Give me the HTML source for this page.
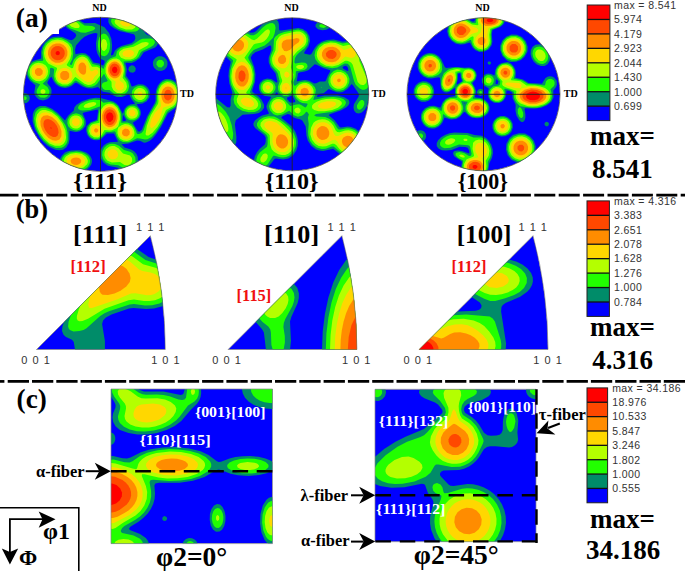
<!DOCTYPE html>
<html><head><meta charset="utf-8"><style>
html,body{margin:0;padding:0;background:#fff;}
body{width:685px;height:571px;overflow:hidden;position:relative;}
svg{position:absolute;left:0;top:0;}
.sb{font-family:"Liberation Serif",serif;font-weight:bold;}
.sr{font-family:"Liberation Serif",serif;}
.ss{font-family:"Liberation Sans",sans-serif;}
</style></head><body>
<svg width="685" height="571" viewBox="0 0 685 571">
<clipPath id="pf0"><path d="M23.5 94.3A77.0 77.0 0 1 1 177.5 94.3A77.0 77.0 0 1 1 23.5 94.3Z"/></clipPath>
<g clip-path="url(#pf0)">
<path fill="#0000ff" d="M23.5 94.3A77.0 77.0 0 1 1 177.5 94.3A77.0 77.0 0 1 1 23.5 94.3Z"/>
<path fill="#008c69" fill-rule="evenodd" d="M129.5 170.9L124.5 170.9L117.0 167.4L108.0 165.7L103.7 162.8L101.1 158.8L100.2 155.3L100.4 151.8L101.7 148.3L104.0 145.3L106.5 143.4L109.5 142.2L118.0 141.8L114.0 133.4L107.0 133.4L101.5 138.8L99.0 139.9L96.5 140.3L93.5 140.0L91.0 138.8L89.0 137.2L87.3 134.8L86.2 130.8L86.6 126.3L90.5 122.2L96.0 120.2L97.0 119.3L98.1 110.8L97.5 109.5L84.0 112.5L82.6 113.3L85.7 120.3L85.9 123.8L85.3 126.3L82.5 129.5L79.0 131.4L75.5 131.9L70.5 130.9L69.5 131.1L69.5 139.3L68.7 143.3L66.4 147.3L63.0 149.7L59.5 150.2L55.5 149.7L51.5 148.1L47.5 145.7L43.6 142.3L40.1 138.3L34.9 129.3L32.6 121.3L32.8 114.3L33.9 111.3L35.5 108.8L37.5 107.2L40.0 106.1L45.5 106.0L52.0 108.7L57.5 112.8L65.0 120.6L68.5 115.3L73.7 110.8L74.5 107.3L76.5 104.8L82.0 101.3L89.5 98.7L95.5 97.8L100.5 97.9L113.5 101.6L116.5 103.5L118.7 105.8L122.5 113.5L123.0 113.4L124.6 108.8L127.0 106.0L130.0 104.5L135.1 103.8L131.6 99.3L129.0 94.0L122.0 96.9L117.0 96.9L114.0 95.7L109.5 92.7L103.0 91.7L98.0 87.0L92.0 88.5L87.5 88.3L83.0 86.7L76.5 82.8L75.0 83.1L71.5 85.9L68.5 87.3L65.5 87.9L62.0 87.6L59.0 86.5L55.9 84.3L54.0 81.8L51.5 76.8L50.0 78.0L47.3 82.3L47.7 83.8L50.6 87.3L51.5 89.8L51.5 93.3L50.0 96.8L47.0 99.3L43.0 100.4L39.0 99.4L36.0 96.8L34.9 94.8L34.3 92.3L35.5 85.3L30.0 80.8L27.6 77.3L26.4 72.8L27.1 67.8L29.1 64.3L32.0 61.6L35.0 60.2L40.8 58.8L41.2 57.8L41.1 51.3L42.2 46.8L44.9 42.3L48.5 39.1L53.0 37.0L58.5 36.4L62.5 37.0L69.0 39.8L71.5 40.2L73.5 39.3L75.4 37.3L76.3 35.3L75.3 33.3L67.0 27.9L63.8 24.3L63.2 20.8L64.1 19.3L66.0 18.1L69.5 17.4L74.0 18.0L78.0 19.5L84.5 23.3L95.0 23.1L104.5 27.3L109.0 33.1L111.3 38.8L112.1 45.3L111.8 50.8L110.9 54.8L111.5 55.6L113.2 54.8L114.9 50.8L117.5 48.2L121.5 46.1L131.5 43.3L134.5 40.8L135.4 38.3L135.0 35.8L133.8 34.3L119.5 31.0L114.0 28.3L110.0 25.3L108.4 22.3L108.3 19.3L109.9 16.8L113.0 15.1L118.0 14.2L123.5 14.5L129.5 15.9L134.5 18.1L138.0 20.4L140.9 23.3L142.3 25.8L143.8 31.3L146.0 34.1L148.1 35.3L154.7 36.8L157.7 39.3L158.3 41.3L157.9 43.8L156.8 45.8L155.0 47.6L143.7 52.3L139.7 58.3L135.0 61.6L131.5 63.0L126.5 62.8L125.4 63.3L126.8 69.3L126.0 75.8L129.5 80.8L131.5 86.2L132.5 86.5L138.5 84.2L143.0 84.5L145.5 85.7L147.5 87.5L149.0 89.8L149.8 92.3L149.4 97.3L146.7 101.3L142.5 103.6L136.6 104.3L140.3 109.8L140.9 112.3L140.7 114.8L139.7 117.3L138.2 119.3L132.7 122.8L138.0 131.4L140.0 131.5L141.9 129.8L147.2 116.3L155.0 102.5L155.6 100.3L155.6 93.8L156.2 89.8L157.8 85.8L160.0 82.7L162.5 80.5L165.0 79.3L167.5 78.9L170.5 79.2L173.0 80.2L175.5 82.1L178.9 87.3L180.1 91.3L180.4 95.8L179.8 99.8L178.4 103.8L175.0 108.3L168.0 113.2L160.8 127.3L156.4 133.8L153.0 137.9L149.5 140.9L146.0 142.6L144.0 142.7L140.0 140.8L137.0 140.4L128.5 143.5L121.5 144.2L124.5 147.4L131.0 149.5L134.0 151.3L136.3 153.8L137.7 156.8L138.1 161.3L136.5 165.8L133.5 169.1L129.5 170.9ZM103.3 65.3L104.5 62.9L104.7 60.8L101.5 59.2L99.5 57.3L97.5 53.8L96.4 49.8L96.0 43.3L97.5 33.8L96.0 33.0L93.5 33.3L88.6 34.8L84.5 36.8L81.0 39.8L76.0 45.4L75.0 49.8L75.5 54.3L81.5 52.9L85.5 53.6L89.3 56.3L93.5 62.5L99.0 63.6L102.5 65.4L103.3 65.3ZM162.0 70.8L159.0 70.9L156.5 70.1L154.1 67.8L153.0 65.3L152.9 62.3L153.8 59.8L156.0 57.4L158.5 56.3L161.5 56.3L164.0 57.2L166.3 59.3L167.4 61.8L167.5 64.8L166.7 67.3L164.5 69.7L162.0 70.8ZM133.0 72.8L130.0 72.3L128.2 69.8L129.0 67.1L131.5 65.2L134.0 65.8L135.8 68.3L135.3 71.3L133.0 72.8ZM26.5 102.9L24.5 103.2L22.5 102.6L21.0 101.4L20.1 99.8L20.2 96.3L21.2 94.8L23.0 93.6L25.0 93.2L27.0 93.7L29.5 96.3L29.8 98.3L29.3 100.3L28.2 101.8L26.5 102.9ZM125.8 120.8L126.1 119.8L123.0 114.5L122.5 120.6L123.5 121.2L125.8 120.8ZM77.5 172.3L72.5 172.1L68.0 170.9L64.0 168.7L61.2 165.8L59.9 162.3L60.1 158.8L62.0 155.4L65.0 152.6L68.0 151.2L71.5 150.4L79.5 150.3L86.0 152.5L88.6 154.3L90.7 156.8L91.8 159.3L92.0 161.8L91.4 164.3L89.8 166.8L87.5 169.0L84.5 170.6L77.5 172.3Z"/>
<path fill="#22ff00" fill-rule="evenodd" d="M135.5 31.4L131.0 31.7L126.5 31.4L118.0 28.7L114.5 26.5L112.3 24.3L111.1 21.8L111.4 19.3L114.3 16.8L119.5 15.8L126.0 16.4L132.0 18.5L136.9 21.8L139.4 25.8L139.5 27.8L138.9 29.3L137.5 30.7L135.5 31.4ZM85.5 32.8L81.0 32.6L70.0 28.2L67.5 26.3L65.9 24.3L65.4 22.3L65.9 20.8L67.0 19.8L69.0 19.1L74.0 19.4L78.5 21.3L84.5 25.6L92.0 26.1L94.0 26.8L95.1 27.8L95.1 28.8L93.4 30.3L85.5 32.8ZM104.5 56.3L102.0 55.7L100.0 53.6L98.5 50.1L97.9 45.8L98.2 41.3L99.4 37.3L101.5 34.4L103.5 33.4L106.0 34.2L108.0 36.4L109.5 39.8L110.1 44.3L109.8 48.8L108.8 52.3L107.0 55.0L104.5 56.3ZM44.5 97.8L40.5 97.5L37.5 94.9L36.6 92.3L36.8 89.8L40.1 84.3L34.0 81.9L30.7 79.3L28.4 75.3L27.9 70.8L29.5 66.3L32.9 62.8L37.0 61.2L43.0 60.8L43.3 59.8L42.4 52.8L43.3 47.8L46.0 43.2L50.5 39.6L55.5 37.9L61.0 38.1L66.5 40.4L71.5 44.3L72.9 47.8L73.2 53.8L72.3 59.3L70.0 63.4L70.5 64.9L71.5 64.9L72.0 64.3L73.8 59.8L76.5 56.8L79.5 55.1L83.0 54.7L85.5 55.4L88.0 57.1L92.5 64.1L99.0 65.4L103.5 69.0L105.8 63.3L107.5 60.5L110.5 58.2L115.8 56.3L117.0 51.3L120.5 48.1L123.5 46.9L132.0 44.9L140.0 39.7L142.5 38.7L151.0 38.6L153.0 39.3L154.6 40.8L154.9 42.8L153.4 45.3L150.5 47.3L142.0 51.3L140.6 52.8L138.6 56.8L136.5 58.8L131.5 61.0L123.5 61.5L125.1 69.3L124.5 76.8L128.1 81.8L129.2 86.3L128.0 90.8L126.3 92.8L124.0 94.4L120.5 95.4L117.0 95.1L114.0 93.7L109.5 90.1L105.0 89.9L103.0 88.8L101.6 86.3L102.1 83.8L103.5 82.6L107.0 81.6L107.7 80.8L104.0 73.7L97.1 83.8L95.0 85.6L92.5 86.6L89.0 86.9L85.5 86.2L76.0 80.4L75.0 80.8L71.0 84.5L68.5 85.8L65.0 86.5L61.0 85.9L57.5 83.8L55.0 80.8L53.6 75.8L54.2 69.3L53.1 68.3L51.0 67.7L50.0 68.5L49.8 73.3L48.7 76.8L47.0 79.4L42.7 83.8L47.5 87.0L49.4 90.8L49.2 93.3L48.2 95.3L46.5 97.0L44.5 97.8ZM161.5 67.4L158.5 67.2L156.4 64.8L156.7 61.8L159.0 59.8L162.0 60.1L164.0 62.3L163.8 65.3L161.5 67.4ZM127.5 142.3L123.0 142.0L119.5 140.2L117.0 136.8L115.5 131.9L114.5 131.3L110.5 132.0L106.0 131.9L102.0 136.8L98.5 138.8L94.5 138.9L91.0 137.3L89.1 135.3L87.9 132.8L87.5 130.3L87.9 127.8L89.2 125.3L91.2 123.3L98.0 120.8L98.7 113.8L100.4 106.8L99.5 106.4L90.0 109.9L83.0 110.6L80.5 110.3L78.6 109.3L78.0 107.8L78.8 105.8L81.0 103.8L85.0 101.7L89.5 100.2L94.0 99.5L100.0 100.1L103.5 102.8L109.5 102.1L113.5 103.0L117.5 106.1L120.2 110.8L121.2 115.3L121.3 122.8L127.5 122.6L131.0 123.9L134.3 127.3L136.8 133.3L137.5 133.9L139.0 134.0L141.5 132.9L143.4 130.8L148.4 116.8L156.3 103.3L156.9 100.8L157.1 91.3L159.6 85.3L162.5 82.3L166.5 80.5L170.5 80.7L174.0 82.6L177.0 86.3L178.8 90.8L179.2 96.3L178.1 101.3L176.7 104.3L174.5 106.9L168.5 110.5L167.0 111.9L161.3 123.8L155.5 132.5L151.5 136.9L147.5 139.3L145.0 139.6L140.0 138.4L137.0 138.2L130.5 141.4L127.5 142.3ZM142.5 101.8L139.0 102.2L136.0 101.2L133.5 99.0L132.1 96.3L131.7 93.3L132.4 90.3L134.5 87.8L137.5 86.2L140.5 85.8L143.5 86.6L146.0 88.4L147.8 91.3L148.2 94.8L147.3 97.8L145.3 100.3L142.5 101.8ZM26.0 99.8L24.5 100.2L23.1 99.3L22.8 97.8L23.5 96.7L25.0 96.2L26.5 97.1L26.7 98.8L26.0 99.8ZM133.5 120.3L130.5 120.3L128.0 119.2L125.8 116.8L124.9 114.3L125.0 111.3L126.1 108.8L128.2 106.8L131.0 105.7L134.0 105.8L136.5 106.9L138.5 109.1L139.5 111.8L139.4 114.8L138.2 117.3L136.0 119.3L133.5 120.3ZM61.5 147.8L56.0 148.0L49.5 145.3L43.5 140.3L38.3 133.3L35.1 125.8L34.1 118.3L35.5 112.5L37.0 110.4L39.0 108.8L42.0 107.8L45.0 107.8L48.5 108.7L52.5 110.7L59.1 116.3L65.2 124.8L66.3 127.3L67.6 132.8L67.7 139.8L66.9 142.8L65.5 145.1L63.6 146.8L61.5 147.8ZM77.0 130.4L73.5 130.1L70.5 128.6L68.2 126.3L67.3 123.3L67.7 119.8L69.5 116.5L72.5 114.2L76.0 113.3L79.0 113.9L81.7 115.8L83.7 118.8L84.3 121.8L83.9 124.8L82.5 127.3L80.0 129.4L77.0 130.4ZM129.5 168.4L127.0 168.8L124.5 168.4L118.3 165.3L110.5 164.6L105.9 162.3L103.4 159.3L102.1 155.3L102.5 151.3L104.5 147.5L107.0 145.3L109.5 144.1L112.0 143.7L115.0 143.9L119.0 145.7L124.0 150.0L130.0 151.7L132.7 153.3L135.3 157.3L135.6 161.8L133.5 165.9L129.5 168.4ZM79.0 170.8L74.5 171.0L70.5 170.3L66.9 168.8L64.0 166.6L62.2 163.8L61.7 160.8L62.5 157.8L64.5 155.3L69.5 152.4L76.5 151.4L83.0 152.7L87.8 155.8L89.2 157.8L90.1 160.3L89.9 162.8L89.1 164.8L87.5 166.9L85.0 168.8L79.0 170.8Z"/>
<path fill="#b4ff00" fill-rule="evenodd" d="M132.0 29.4L126.0 29.4L119.5 27.3L115.3 23.8L114.6 21.8L114.9 20.3L117.5 18.3L121.5 17.7L126.5 18.4L131.0 20.2L134.5 22.8L135.8 25.3L135.1 27.8L132.0 29.4ZM78.5 27.9L75.0 28.0L71.5 26.7L68.9 24.3L68.9 22.3L70.0 21.4L72.0 21.1L76.4 22.3L78.3 23.8L79.6 25.8L79.5 27.1L78.5 27.9ZM104.5 51.0L103.0 50.8L102.0 49.8L100.7 45.3L101.6 40.8L102.5 39.6L104.0 38.9L106.1 40.3L107.3 44.3L106.6 48.8L104.5 51.0ZM91.0 84.8L88.0 84.9L84.5 83.7L75.5 77.1L74.5 77.7L71.2 82.3L67.5 84.5L62.5 84.6L58.2 82.3L56.3 79.8L55.3 76.3L55.5 73.3L57.1 68.8L56.8 67.8L48.5 63.7L46.1 60.8L44.5 56.8L44.0 53.3L44.4 49.8L45.8 46.3L47.6 43.8L52.0 40.6L57.5 39.4L63.0 40.4L68.1 43.8L70.8 47.8L71.5 53.8L70.3 58.8L66.7 64.8L67.3 65.8L71.5 68.3L73.0 68.0L74.8 62.3L76.7 59.3L79.0 57.4L82.0 56.6L84.5 57.0L87.2 58.8L92.0 66.7L97.0 66.7L99.5 68.0L101.3 71.3L100.7 74.8L94.7 82.8L91.0 84.8ZM130.5 59.4L125.5 59.4L121.0 57.8L119.0 54.8L119.0 52.8L119.8 51.3L123.5 48.7L133.5 46.7L142.0 42.4L146.0 41.9L148.6 42.8L148.6 44.3L147.2 45.8L139.0 50.3L136.9 55.3L135.5 57.1L133.5 58.4L130.5 59.4ZM121.0 93.3L117.0 93.0L113.4 90.3L111.7 86.8L111.5 81.8L107.6 77.3L105.6 72.8L105.5 68.3L106.8 63.8L109.5 60.4L113.0 58.7L116.5 58.5L119.5 59.7L122.0 62.8L123.6 66.8L123.9 71.3L122.6 77.8L126.3 82.8L127.0 86.8L126.3 89.3L125.0 91.1L123.0 92.6L121.0 93.3ZM39.5 81.3L36.0 80.9L32.5 78.8L30.4 75.8L29.6 72.3L30.1 68.8L32.0 65.7L35.0 63.6L38.5 62.7L42.5 63.4L45.5 65.2L47.3 67.8L48.1 71.3L47.6 74.8L45.6 78.3L42.5 80.6L39.5 81.3ZM148.5 135.4L146.5 135.5L145.5 134.3L146.9 125.8L150.9 115.3L158.1 103.8L158.5 101.3L158.1 93.8L159.3 88.8L161.5 85.2L164.5 82.9L167.5 82.1L171.0 82.7L174.6 85.3L177.3 90.3L177.9 95.8L176.7 101.3L175.0 104.2L173.0 106.2L166.0 110.0L161.3 120.3L157.5 126.8L152.5 132.7L148.5 135.4ZM141.5 99.9L139.0 100.0L137.0 99.3L135.0 97.5L134.1 95.3L134.0 92.8L134.8 90.8L136.5 89.0L138.5 88.1L141.0 88.0L143.0 88.7L144.8 90.3L145.8 92.3L146.0 94.8L145.4 96.8L143.7 98.8L141.5 99.9ZM44.0 94.0L42.0 94.0L40.5 92.4L40.7 90.3L42.0 89.2L44.0 89.2L45.5 90.8L45.3 92.8L44.0 94.0ZM89.0 107.8L85.0 107.8L84.0 107.3L83.6 106.3L85.3 104.3L89.0 102.7L93.5 102.0L96.1 102.8L96.2 104.3L94.6 105.8L89.0 107.8ZM98.0 137.4L94.0 137.2L90.5 134.8L89.1 131.3L89.7 127.3L91.1 125.3L93.0 124.0L99.5 122.7L99.9 113.3L101.3 109.3L103.5 106.2L106.0 104.4L108.5 103.7L111.0 103.7L113.5 104.5L117.3 107.8L119.7 113.3L120.0 119.3L118.3 126.3L116.2 128.3L112.0 130.3L109.5 130.6L104.5 130.0L101.5 135.3L98.0 137.4ZM134.5 118.3L132.0 118.8L130.0 118.4L128.0 117.0L126.9 115.3L126.4 113.3L126.8 110.8L128.0 109.0L130.0 107.6L132.5 107.2L134.5 107.7L136.2 108.8L137.6 110.8L138.0 113.3L137.5 115.3L136.5 116.9L134.5 118.3ZM60.0 145.8L55.0 145.8L49.5 143.4L44.1 138.8L39.7 132.8L36.8 126.3L35.8 119.8L37.0 114.4L40.0 111.0L42.5 110.1L45.5 110.0L51.5 112.0L57.5 116.8L62.4 123.3L65.4 130.3L66.1 137.8L65.4 140.8L64.0 143.2L62.3 144.8L60.0 145.8ZM77.5 128.4L75.0 128.6L72.5 127.7L70.5 125.8L69.4 123.3L69.4 120.8L70.4 118.3L72.0 116.6L74.5 115.5L77.0 115.4L79.3 116.3L81.0 117.8L82.3 120.3L82.5 122.8L81.6 125.3L79.9 127.3L77.5 128.4ZM127.0 140.9L123.5 140.6L120.5 139.0L118.4 136.3L117.5 133.3L117.6 129.8L118.5 127.3L121.5 125.2L125.0 124.1L128.5 124.5L131.5 126.2L133.4 128.8L134.4 132.3L134.4 135.3L133.0 137.8L130.0 140.0L127.0 140.9ZM127.5 165.4L124.5 164.9L120.0 162.0L112.0 162.5L107.6 160.8L105.4 158.3L104.4 155.3L104.6 152.3L105.9 149.3L109.5 146.5L112.0 145.9L114.5 146.1L118.5 148.3L123.0 153.5L130.0 155.5L132.0 158.0L132.2 161.3L130.5 164.1L127.5 165.4ZM78.5 169.3L75.0 169.5L71.5 168.9L68.5 167.8L65.9 165.8L64.3 163.3L63.9 160.8L64.6 158.3L66.2 156.3L70.5 153.8L76.0 152.9L81.5 153.8L86.0 156.7L87.8 160.3L87.8 162.3L87.1 164.3L83.5 167.6L78.5 169.3Z"/>
<path fill="#ffd700" fill-rule="evenodd" d="M128.5 26.4L125.5 26.4L122.5 25.5L120.5 23.8L120.1 22.3L121.0 21.3L123.0 20.8L127.6 21.8L129.2 22.8L130.3 24.3L130.0 25.6L128.5 26.4ZM61.5 64.8L57.0 65.2L52.0 63.7L48.5 60.8L46.3 56.8L45.8 52.3L47.0 47.8L50.0 44.0L54.0 41.7L58.5 41.2L63.0 42.4L66.9 45.3L69.2 49.3L69.7 53.8L68.5 58.3L65.5 62.3L61.5 64.8ZM129.0 57.3L126.0 57.1L123.3 55.8L122.4 53.8L123.3 51.8L125.5 50.5L128.0 49.9L131.0 50.1L133.0 51.0L134.0 52.8L133.6 54.8L132.0 56.3L129.0 57.3ZM90.5 81.8L87.5 82.0L84.0 80.5L79.0 76.5L76.3 72.8L75.5 69.3L76.0 64.8L77.5 61.6L80.0 59.5L83.5 59.2L86.5 61.1L88.1 63.8L90.5 71.0L92.0 71.2L95.5 69.6L97.0 69.9L98.0 70.9L98.3 72.3L97.8 73.8L94.5 76.7L92.5 80.3L90.5 81.8ZM121.0 90.3L118.1 90.3L116.0 88.8L115.0 85.8L115.8 81.8L109.5 77.6L106.9 72.8L106.6 68.8L107.7 64.8L110.0 61.8L113.0 60.2L116.0 60.0L118.5 61.0L120.8 63.3L122.4 66.8L122.9 69.8L122.5 72.8L119.4 79.8L120.0 80.8L123.3 83.3L124.2 86.3L123.2 88.8L121.0 90.3ZM41.0 78.8L38.0 79.1L35.5 78.4L33.5 76.8L32.0 74.3L31.7 71.3L32.4 68.8L34.0 66.7L36.5 65.2L39.5 64.9L42.0 65.6L44.3 67.3L45.7 69.8L45.9 72.8L45.2 75.3L43.5 77.4L41.0 78.8ZM66.0 82.9L63.0 82.8L60.5 81.7L58.5 79.7L57.3 76.8L57.4 73.8L58.5 71.2L60.5 69.0L63.0 67.9L66.0 68.0L68.9 69.3L71.0 71.3L72.2 73.8L72.2 76.8L70.8 79.8L68.7 81.8L66.0 82.9ZM152.5 127.8L151.0 128.0L150.1 126.3L150.3 123.3L151.5 119.3L155.0 112.7L160.7 106.8L161.1 105.8L159.5 95.8L160.5 89.8L162.5 86.6L165.0 84.7L167.5 84.0L170.5 84.5L173.6 86.8L175.8 90.8L176.4 95.8L175.4 100.3L173.6 103.3L171.5 105.1L162.9 107.8L161.0 115.3L159.0 119.9L155.5 125.3L152.5 127.8ZM140.5 96.4L138.5 96.0L137.5 94.3L138.0 92.5L139.5 91.6L141.2 91.8L142.4 93.3L142.1 95.3L140.5 96.4ZM111.5 128.8L107.5 128.7L103.5 126.3L101.7 123.3L100.7 118.8L100.9 114.3L102.5 109.8L105.5 106.5L109.0 105.2L112.5 105.7L115.5 107.8L117.8 111.3L118.9 115.3L118.7 119.8L117.2 124.3L114.6 127.3L111.5 128.8ZM133.5 116.3L130.9 116.3L128.9 114.3L129.0 111.5L131.0 109.7L133.7 109.8L135.5 111.8L135.5 114.3L133.5 116.3ZM59.0 143.4L55.0 143.5L50.0 141.5L45.4 137.8L41.3 132.3L38.7 126.3L37.9 120.8L38.8 116.3L41.5 113.3L43.5 112.5L46.0 112.3L51.0 113.9L56.5 118.1L60.8 123.8L63.5 130.3L64.1 136.3L62.5 140.9L61.0 142.4L59.0 143.4ZM77.0 125.9L75.0 126.0L73.5 125.3L71.9 122.8L72.5 119.8L75.0 118.0L78.0 118.5L79.8 120.8L79.5 123.9L77.0 125.9ZM98.0 135.4L96.0 135.7L94.0 135.2L92.5 134.2L91.2 132.3L90.9 130.3L91.3 128.3L92.5 126.6L94.5 125.4L96.5 125.1L98.5 125.5L100.5 126.8L101.3 128.3L101.6 130.3L101.0 132.7L99.8 134.3L98.0 135.4ZM128.0 138.8L125.5 139.1L123.0 138.4L120.9 136.8L119.6 134.3L119.3 131.8L120.1 129.3L121.8 127.3L124.0 126.2L126.5 125.9L129.0 126.7L131.0 128.3L132.3 130.8L132.5 133.3L131.8 135.8L130.0 137.8L128.0 138.8ZM113.5 159.3L111.5 159.2L109.6 158.3L107.6 155.3L107.6 153.3L108.4 151.3L111.5 149.2L113.5 149.2L115.5 150.0L117.3 151.8L118.0 153.8L118.0 155.8L117.2 157.3L115.5 158.7L113.5 159.3ZM78.5 167.4L73.0 167.3L68.5 165.1L67.1 163.3L66.6 161.3L67.0 159.3L68.0 157.8L71.0 155.7L75.5 154.8L80.0 155.4L83.3 157.3L85.1 160.3L84.7 163.3L82.4 165.8L78.5 167.4Z"/>
<path fill="#ff8c00" fill-rule="evenodd" d="M59.5 62.8L55.5 62.7L52.0 61.1L49.3 58.3L48.0 54.8L48.1 50.8L49.8 47.3L52.5 44.8L56.0 43.4L60.0 43.5L63.5 45.1L66.1 47.8L67.4 51.3L67.3 55.3L65.7 58.8L63.0 61.4L59.5 62.8ZM116.0 78.3L113.5 78.2L110.8 76.8L108.9 74.3L108.0 71.3L108.1 67.8L109.3 64.8L111.5 62.5L114.0 61.6L116.5 61.8L119.0 63.4L120.7 65.8L121.5 68.8L121.4 71.8L120.3 74.8L118.5 77.1L116.0 78.3ZM84.5 74.6L83.0 74.7L81.0 73.8L79.5 72.3L78.3 69.8L78.6 65.3L80.0 63.3L81.5 62.5L83.0 62.5L84.4 63.3L86.2 66.3L86.1 71.8L85.5 73.6L84.5 74.6ZM40.0 76.0L37.0 75.7L34.9 73.3L35.0 70.3L36.0 68.9L37.5 68.1L40.7 68.3L42.8 70.8L42.5 73.9L40.0 76.0ZM66.5 79.9L63.0 80.0L61.2 78.8L60.3 77.3L60.2 73.8L61.5 71.9L63.0 71.0L66.5 71.0L68.0 72.0L69.2 73.8L69.2 77.3L68.2 78.8L66.5 79.9ZM168.5 103.8L165.5 103.6L163.5 102.1L162.0 99.3L161.3 95.8L161.7 92.3L163.0 89.3L165.5 87.0L168.0 86.4L170.5 87.0L172.6 88.8L174.0 91.3L174.6 94.8L174.3 97.8L172.9 100.8L171.0 102.8L168.5 103.8ZM112.0 126.8L109.0 127.2L105.8 125.8L103.5 123.1L102.2 119.3L102.1 115.3L103.4 111.3L105.9 108.3L109.0 107.0L112.0 107.4L114.5 109.0L116.4 111.8L117.5 115.3L117.5 118.8L116.5 122.3L114.5 125.2L112.0 126.8ZM56.0 140.8L52.5 140.2L48.5 137.9L45.0 134.3L42.4 130.3L40.7 125.8L40.3 121.3L41.4 117.8L43.5 115.8L47.5 115.3L52.0 117.1L56.3 120.8L59.7 125.8L61.5 131.3L61.4 136.3L59.5 139.5L56.0 140.8ZM97.0 132.4L95.5 132.5L94.2 131.3L94.1 129.8L95.5 128.3L97.0 128.4L98.3 129.8L98.2 131.3L97.0 132.4ZM127.0 136.4L124.0 136.1L122.6 134.8L121.9 133.3L122.5 130.3L125.0 128.6L128.0 129.0L129.8 131.3L129.5 134.4L127.0 136.4ZM77.0 164.9L74.0 164.7L71.4 163.3L70.5 160.8L71.8 158.8L74.0 157.7L76.5 157.5L79.0 158.1L80.5 159.3L81.3 160.8L80.8 162.8L79.0 164.3L77.0 164.9Z"/>
<path fill="#ff4800" fill-rule="evenodd" d="M60.0 59.9L57.0 60.2L54.5 59.5L52.3 57.8L50.9 55.3L50.6 52.3L51.4 49.8L53.0 47.7L55.5 46.3L58.5 46.0L61.0 46.8L63.0 48.3L64.5 50.8L64.8 53.8L64.1 56.3L62.5 58.4L60.0 59.9ZM115.0 76.3L113.0 76.0L111.3 74.8L110.0 72.8L109.5 70.3L109.8 67.8L110.7 65.8L112.5 64.1L114.5 63.5L116.5 63.9L118.3 65.3L119.5 67.3L119.9 69.8L119.6 72.3L118.5 74.3L117.0 75.7L115.0 76.3ZM168.5 100.4L167.0 100.3L165.3 99.3L164.2 97.3L163.9 95.3L165.0 91.4L166.5 90.0L168.0 89.7L169.5 90.0L170.9 91.3L172.1 94.8L171.0 98.7L168.5 100.4ZM111.0 124.9L108.5 124.9L106.5 123.8L104.6 121.3L103.8 118.3L103.8 115.3L105.0 112.2L107.0 110.0L109.5 109.2L112.0 109.7L114.0 111.3L115.4 113.8L115.9 116.3L115.7 119.3L114.7 121.8L113.0 123.9L111.0 124.9ZM55.5 136.9L53.0 136.9L50.0 135.5L47.4 133.3L45.3 130.3L43.8 126.8L43.4 123.8L44.0 121.1L45.5 119.5L48.0 118.9L51.0 119.9L54.2 122.3L56.8 125.8L58.2 129.3L58.6 132.8L57.5 135.7L55.5 136.9Z"/>
<path fill="#ff0000" fill-rule="evenodd" d="M58.0 55.3L56.2 54.8L55.5 53.3L56.0 51.7L57.5 50.9L59.0 51.3L59.9 52.8L59.5 54.5L58.0 55.3ZM115.0 73.3L113.0 72.6L111.9 70.3L112.5 67.7L114.5 66.5L116.5 67.3L117.5 69.8L116.7 72.3L115.0 73.3ZM110.5 121.9L109.0 121.9L107.5 121.0L106.1 117.8L106.2 115.8L107.0 113.8L109.5 112.2L112.0 113.1L113.5 116.3L112.9 119.8L110.5 121.9ZM51.5 128.8L50.5 128.3L50.5 127.2L51.5 127.8L51.5 128.8Z"/>
</g>

<circle cx="100.5" cy="94.3" r="77.0" fill="none" stroke="#555" stroke-width="0.8"/>
<line x1="23.5" y1="94.3" x2="177.5" y2="94.3" stroke="#222" stroke-width="0.9"/>
<line x1="100.5" y1="17.3" x2="100.5" y2="171.3" stroke="#222" stroke-width="0.9"/>
<clipPath id="pf1"><path d="M215.7 94.3A76.5 76.5 0 1 1 368.7 94.3A76.5 76.5 0 1 1 215.7 94.3Z"/></clipPath>
<g clip-path="url(#pf1)">
<path fill="#0000ff" d="M215.7 94.3A76.5 76.5 0 1 1 368.7 94.3A76.5 76.5 0 1 1 215.7 94.3Z"/>
<path fill="#008c69" fill-rule="evenodd" d="M262.2 170.3L258.7 170.3L255.7 168.4L254.1 165.3L253.8 160.8L254.9 156.3L257.0 152.3L259.4 149.3L265.0 144.3L265.7 141.7L265.8 137.8L264.4 135.3L255.4 128.3L253.7 125.8L253.3 123.8L254.7 120.8L258.7 117.4L262.2 115.6L268.2 114.1L269.0 113.3L266.9 108.8L266.4 106.3L267.8 102.8L271.1 97.3L270.7 96.8L264.2 95.7L260.7 92.9L259.3 90.3L258.9 87.8L259.1 85.3L260.1 82.8L263.2 79.7L267.2 78.4L271.7 79.2L276.7 82.8L277.5 81.8L275.6 73.3L270.6 67.3L268.7 62.3L268.7 57.8L271.3 50.3L271.3 46.8L270.7 45.6L269.7 45.5L262.7 49.4L255.2 52.2L252.2 54.8L250.7 57.8L254.3 67.3L255.5 74.3L255.0 81.8L252.3 90.3L252.3 91.8L258.7 96.8L261.5 99.8L264.1 104.8L264.1 107.8L261.9 110.8L258.7 112.9L253.7 114.1L242.5 114.8L235.8 120.3L234.9 124.3L236.4 136.8L236.3 142.3L234.7 145.9L233.2 146.7L231.2 146.6L226.7 143.9L221.2 137.8L215.9 129.3L211.7 119.9L211.7 97.2L214.2 97.5L216.7 98.8L227.2 107.2L229.7 107.4L230.6 105.8L230.6 99.3L232.4 92.8L229.3 83.3L228.5 75.8L228.9 70.8L230.8 61.8L223.9 54.3L222.2 50.8L221.3 46.8L221.9 40.8L224.7 35.4L229.7 31.0L232.7 29.7L236.2 29.0L242.2 29.5L250.7 32.8L253.7 32.6L256.2 31.0L262.2 24.8L265.7 22.0L269.7 19.8L273.7 19.0L276.2 19.6L278.2 21.6L278.9 24.3L279.0 29.3L279.7 30.4L281.7 30.5L298.2 27.9L302.7 28.9L306.8 31.8L309.4 36.3L310.0 41.3L308.4 46.3L304.3 52.3L304.2 53.3L304.9 53.8L309.7 54.7L311.2 54.3L315.0 47.8L317.7 44.6L321.7 41.8L326.7 40.0L333.7 39.6L342.7 41.7L351.7 40.4L355.2 41.2L358.1 42.8L360.5 45.3L362.2 48.3L364.1 58.8L371.1 75.8L372.4 80.8L372.4 85.3L371.8 89.3L368.7 96.3L367.2 105.3L364.7 109.8L361.7 112.5L358.7 113.5L356.2 113.1L354.2 110.8L353.5 107.8L353.9 104.3L358.5 96.8L359.1 94.3L353.2 85.4L351.7 84.1L347.0 89.3L342.7 91.9L339.7 92.5L336.7 92.3L328.7 89.1L323.7 93.2L318.2 93.9L316.8 96.3L317.7 97.1L324.7 95.6L337.7 95.6L344.2 97.2L348.4 99.8L349.3 101.3L349.4 103.3L348.4 105.3L346.3 107.3L341.2 110.3L329.6 114.3L328.8 115.3L334.5 120.3L339.7 127.3L341.2 127.5L347.7 126.6L351.2 126.9L355.7 128.7L359.4 131.8L362.0 136.3L363.0 141.3L362.2 146.3L359.8 150.8L357.7 153.0L354.7 155.0L351.2 156.3L347.7 156.6L344.2 156.1L340.7 154.7L333.2 148.8L323.2 151.0L319.2 150.6L315.7 149.2L311.2 145.8L307.9 140.8L306.5 135.8L305.7 126.5L302.5 120.8L300.7 119.4L294.7 117.9L289.7 114.5L287.7 114.0L282.4 116.3L281.2 117.8L291.5 126.3L295.3 131.8L297.1 136.8L297.9 141.3L297.7 145.8L296.4 150.3L293.0 155.3L288.2 158.5L283.2 159.5L276.2 158.5L274.7 158.8L268.2 167.0L265.2 169.2L262.2 170.3ZM326.2 29.8L322.2 30.3L318.1 29.3L315.5 26.8L315.7 24.3L317.7 22.5L320.7 21.5L324.2 21.4L327.7 22.4L329.9 24.3L330.3 26.3L329.0 28.3L326.2 29.8ZM316.4 83.3L319.7 81.6L324.7 81.5L325.7 80.9L328.0 75.3L330.3 71.3L330.2 70.3L323.2 68.0L316.7 64.7L314.7 64.3L308.2 70.3L304.7 71.6L299.2 72.4L298.0 73.3L296.7 81.6L302.2 80.2L305.7 80.0L309.2 80.8L314.2 83.4L316.4 83.3ZM348.4 70.8L348.0 67.8L346.3 65.8L344.2 65.9L342.4 67.3L343.3 68.8L347.2 70.9L348.4 70.8ZM277.8 94.8L278.2 93.8L276.7 92.0L274.5 94.8L275.2 95.2L277.8 94.8ZM292.6 102.8L294.7 102.2L295.5 101.3L292.7 96.0L291.2 95.8L286.9 97.8L287.2 99.3L289.2 101.7L290.7 102.7L292.6 102.8Z"/>
<path fill="#22ff00" fill-rule="evenodd" d="M254.7 111.9L248.7 112.2L242.2 110.7L237.3 107.8L234.4 103.8L233.5 99.3L235.0 93.3L231.0 84.3L229.8 76.8L230.4 70.3L233.1 60.8L232.1 59.3L227.2 55.4L224.9 52.3L223.3 47.3L223.5 42.3L224.8 38.8L226.8 35.8L229.6 33.3L232.7 31.7L236.2 30.9L240.2 31.0L244.2 32.1L250.7 35.2L253.7 35.3L257.2 33.3L262.7 27.6L266.2 24.8L269.7 23.2L272.7 23.1L274.9 24.8L275.6 27.8L274.6 33.8L273.0 37.8L268.7 42.3L264.7 45.5L253.7 49.9L249.8 54.3L248.2 57.3L248.6 59.3L252.7 66.8L254.1 74.3L253.5 82.3L249.9 92.3L251.2 93.8L258.2 98.8L260.3 101.8L261.2 104.8L260.9 107.3L259.6 109.3L257.6 110.8L254.7 111.9ZM323.7 27.9L320.2 27.3L319.3 26.3L319.6 24.8L322.2 23.7L325.4 24.3L326.3 25.3L326.3 26.3L325.4 27.3L323.7 27.9ZM349.2 154.9L345.2 154.6L341.7 153.3L333.7 146.4L331.7 146.5L325.7 148.7L321.7 148.9L316.7 147.5L312.7 144.6L310.0 140.8L308.4 135.8L308.1 131.8L308.7 123.8L307.9 117.8L308.9 114.3L307.2 111.9L306.2 111.7L304.1 114.3L301.9 115.8L297.7 116.7L293.9 115.3L289.2 110.8L282.2 114.4L277.2 115.4L275.2 115.1L273.2 113.9L270.0 110.3L269.0 106.3L270.3 101.8L273.2 98.5L277.2 97.0L280.7 97.0L283.2 98.0L290.2 106.0L296.2 104.4L299.2 104.3L301.2 105.0L305.2 107.6L306.2 107.1L307.6 104.3L307.2 103.6L302.2 103.0L299.2 101.6L296.2 98.6L293.2 93.3L287.7 95.7L283.7 95.9L280.7 94.0L278.3 90.3L277.9 86.8L279.7 81.3L277.7 73.3L276.7 71.5L271.6 65.8L270.5 62.8L270.1 59.8L270.8 55.8L273.4 49.8L274.0 38.8L275.3 36.8L278.7 34.1L284.2 31.9L298.2 29.5L303.2 31.0L307.0 34.8L308.4 39.8L307.3 44.8L304.7 48.3L299.0 52.8L296.2 55.8L294.9 58.3L294.4 61.8L294.5 62.8L295.2 63.5L301.7 62.4L305.2 62.7L307.1 64.3L307.6 66.8L306.3 68.8L304.2 70.1L295.9 71.3L295.6 76.8L293.3 82.3L293.6 84.3L294.2 85.4L295.2 85.8L299.7 82.5L304.2 81.4L308.2 82.0L311.7 83.9L314.9 87.3L315.8 89.8L315.3 93.8L313.4 99.3L313.7 100.0L324.7 97.5L333.2 97.0L340.7 98.0L343.6 99.3L345.3 100.8L346.0 102.8L345.0 105.3L342.7 107.5L339.2 109.5L331.2 112.1L316.2 114.1L314.1 115.3L316.2 116.4L325.2 117.1L329.7 118.9L333.7 122.3L337.2 128.1L338.7 129.5L340.7 129.6L346.7 128.3L350.2 128.5L354.7 130.1L358.0 132.8L360.0 135.8L361.1 139.3L361.3 142.8L360.5 146.3L358.7 149.5L356.2 152.1L352.7 154.1L349.2 154.9ZM364.2 89.8L362.2 89.7L359.7 88.6L355.7 84.7L354.1 81.3L350.3 67.3L349.2 65.2L347.7 63.8L344.7 63.4L337.2 67.6L332.2 68.3L324.2 66.8L320.7 65.0L318.0 62.8L315.4 59.3L314.5 55.3L315.4 50.8L318.2 46.3L320.7 44.1L323.7 42.5L330.7 40.9L335.7 41.4L342.7 43.6L349.2 42.3L352.2 42.3L355.2 43.2L357.7 44.9L360.6 49.3L362.0 59.3L368.9 75.8L369.8 79.3L369.8 82.8L368.7 86.3L366.7 88.8L364.2 89.8ZM339.7 90.8L335.7 90.4L332.2 88.5L329.5 85.8L328.3 82.3L328.6 78.3L330.4 74.3L333.7 71.1L337.2 69.6L341.2 70.1L345.2 72.0L347.9 74.8L349.5 78.8L349.2 82.8L347.2 86.8L343.7 89.7L339.7 90.8ZM268.7 94.9L265.7 94.5L263.2 93.2L261.2 90.8L260.5 88.3L260.7 85.3L262.0 82.8L264.2 80.9L267.2 80.0L270.2 80.3L272.7 81.7L274.5 83.8L275.6 86.8L275.3 89.3L273.6 92.3L271.2 94.2L268.7 94.9ZM321.2 87.9L320.9 87.3L321.7 87.1L321.2 87.9ZM360.7 109.4L359.2 109.7L357.7 109.0L356.9 107.3L357.0 105.3L359.2 101.5L361.2 100.1L362.7 100.0L364.2 101.4L364.4 104.3L363.1 107.3L360.7 109.4ZM230.7 140.9L227.7 140.2L223.7 136.8L219.6 131.3L215.8 124.3L213.0 116.8L211.7 110.3L211.9 105.8L212.7 104.0L213.7 103.2L216.7 103.4L220.7 106.2L225.7 111.8L229.1 117.3L231.7 125.3L233.2 133.8L232.7 138.8L231.7 140.3L230.7 140.9ZM262.2 167.4L259.2 166.9L257.4 165.3L256.4 162.8L256.4 159.3L257.5 155.8L259.7 152.4L267.0 146.8L267.6 144.3L267.7 137.3L266.5 134.8L258.5 128.3L257.0 125.8L257.0 123.3L259.2 120.0L263.2 117.4L268.2 116.3L274.2 116.6L277.7 118.2L283.2 121.9L288.6 126.3L291.7 129.8L294.0 133.8L295.6 138.3L296.1 142.8L295.6 146.8L293.2 152.1L289.2 155.7L286.2 157.0L283.2 157.4L280.2 157.2L274.7 155.7L273.2 155.8L267.7 164.3L265.2 166.3L262.2 167.4Z"/>
<path fill="#b4ff00" fill-rule="evenodd" d="M253.2 109.8L248.7 110.0L243.7 108.7L239.7 106.2L237.2 102.8L236.7 99.3L239.1 93.8L235.1 88.8L233.2 85.5L231.8 81.3L231.3 76.3L232.3 68.8L236.4 60.8L236.6 59.3L230.3 55.3L227.5 52.3L225.6 47.8L225.6 43.3L226.5 40.3L228.4 37.3L231.2 34.9L234.2 33.5L238.2 33.0L242.2 33.7L245.7 35.3L251.7 39.4L254.2 40.2L257.2 38.5L265.2 30.7L267.2 29.6L268.7 29.6L269.9 30.8L269.8 32.8L268.7 35.8L266.7 38.8L264.2 41.2L261.7 42.6L255.2 43.7L253.7 44.6L244.4 57.8L250.5 65.8L251.9 69.8L252.7 74.8L252.5 79.3L251.5 83.8L249.7 87.6L246.3 92.3L246.2 93.3L255.1 98.8L257.2 101.3L258.2 103.8L258.1 105.8L257.2 107.6L255.7 108.8L253.2 109.8ZM286.7 94.4L282.7 93.5L280.0 90.3L279.8 86.3L282.0 81.8L282.2 80.3L280.7 76.6L279.7 71.3L274.7 66.8L272.8 63.8L272.1 60.8L272.2 57.8L275.5 50.3L276.2 41.3L279.1 36.8L281.7 35.0L284.7 33.9L296.2 31.5L299.7 31.6L302.7 32.9L305.1 35.3L306.3 38.3L306.3 41.8L305.4 44.3L303.9 46.3L297.2 51.4L293.0 56.3L290.8 67.3L293.4 74.3L293.0 77.3L290.8 81.8L292.5 86.8L292.5 89.3L290.3 92.8L286.7 94.4ZM363.7 85.0L362.2 85.1L360.2 84.6L357.7 82.1L352.7 64.8L351.3 62.8L349.7 61.7L347.2 60.7L345.2 60.7L338.2 65.0L332.2 66.5L326.2 65.7L320.8 62.8L317.9 59.3L316.8 55.8L317.2 51.8L319.3 47.8L324.2 44.0L330.7 42.5L335.7 43.1L343.2 46.1L350.7 44.5L353.7 45.0L355.9 46.3L357.7 48.4L358.9 51.3L359.2 60.8L366.7 78.3L366.4 82.3L365.2 84.1L363.7 85.0ZM302.2 68.8L300.2 69.2L297.9 68.8L296.5 67.8L296.2 66.8L296.8 65.8L298.7 64.9L302.2 64.9L303.7 65.8L304.1 66.8L303.7 67.8L302.2 68.8ZM340.7 88.8L337.2 88.8L334.2 87.6L331.8 85.3L330.5 82.3L330.4 78.8L331.6 75.8L334.2 73.2L337.2 71.9L340.7 72.0L343.7 73.3L346.2 75.8L347.4 78.8L347.3 82.3L346.0 85.3L343.7 87.5L340.7 88.8ZM268.7 92.9L266.7 92.8L264.7 91.9L263.2 90.3L262.5 88.3L262.5 86.3L263.3 84.3L265.2 82.6L267.2 81.9L269.2 82.0L271.2 83.0L272.8 84.8L273.4 86.8L273.2 88.8L272.2 90.8L270.7 92.2L268.7 92.9ZM306.7 100.9L303.2 101.0L299.7 99.6L297.2 97.2L295.7 93.8L295.6 90.3L296.8 87.3L299.2 84.8L302.7 83.2L306.2 83.1L309.3 84.3L312.1 86.8L313.5 89.8L313.6 93.3L312.3 96.8L309.7 99.6L306.7 100.9ZM324.7 111.3L318.7 111.2L314.2 110.1L312.1 108.3L312.0 105.8L313.6 103.8L316.7 101.8L321.2 100.1L326.2 99.0L331.2 98.7L335.7 99.1L339.2 100.1L341.4 101.8L341.9 103.3L341.4 104.8L338.0 107.8L332.2 110.1L324.7 111.3ZM280.7 112.9L277.7 113.2L275.2 112.5L272.9 110.8L271.4 108.3L271.1 105.8L272.0 102.8L273.7 100.6L276.2 99.2L279.2 98.9L282.2 99.9L284.4 101.8L286.0 104.8L286.2 107.3L285.6 109.3L283.7 111.4L280.7 112.9ZM298.7 113.4L296.4 113.3L294.7 111.8L294.3 109.8L295.7 108.0L298.2 107.6L300.5 109.3L300.5 111.8L298.7 113.4ZM226.7 132.3L224.7 131.5L222.7 129.6L218.6 122.8L216.5 115.3L216.7 112.7L217.7 111.5L219.7 111.8L221.7 113.4L224.2 116.6L226.2 120.3L227.8 124.8L228.4 128.8L228.0 131.3L226.7 132.3ZM285.2 154.9L281.7 155.1L278.2 154.2L274.0 151.8L271.7 149.3L270.1 144.3L269.7 135.3L268.6 133.8L262.6 129.3L260.4 125.8L260.7 122.7L263.6 119.8L266.2 118.7L269.7 118.3L273.2 118.7L276.7 120.0L280.4 122.3L284.5 125.8L288.7 129.9L291.3 133.3L293.8 139.8L294.0 143.3L293.6 146.3L292.4 149.3L290.5 151.8L288.2 153.7L285.2 154.9ZM349.7 152.8L345.7 152.7L342.2 151.4L339.6 149.3L336.2 145.0L334.2 143.8L332.2 143.8L326.2 146.2L322.7 146.6L318.7 145.9L315.2 143.8L312.0 139.8L310.3 134.3L311.0 127.8L313.5 122.8L315.7 121.0L318.7 119.7L322.2 119.3L325.2 119.6L328.4 120.8L331.2 122.9L333.4 125.8L335.7 130.4L337.2 131.9L339.7 132.2L345.2 130.5L348.7 130.2L352.2 131.0L355.2 132.8L357.5 135.3L358.9 138.3L359.4 141.3L358.9 144.8L357.5 147.8L355.3 150.3L352.7 152.0L349.7 152.8ZM263.7 162.4L261.7 162.3L260.7 161.3L260.3 159.8L260.6 157.8L263.0 154.3L264.7 153.5L266.2 153.5L267.7 155.1L267.6 157.8L266.2 160.5L263.7 162.4Z"/>
<path fill="#ffd700" fill-rule="evenodd" d="M284.7 68.3L281.7 68.2L278.2 66.7L275.7 64.3L274.6 61.8L274.8 57.3L278.4 50.8L278.1 44.8L278.9 41.3L281.2 38.3L284.7 36.4L296.2 33.9L300.2 34.3L302.4 35.8L303.6 37.8L304.0 40.3L303.4 42.8L301.7 45.1L296.2 48.9L290.8 54.3L290.1 55.8L289.0 63.3L286.7 66.9L284.7 68.3ZM238.7 55.3L234.7 54.7L231.4 52.8L229.1 49.8L228.1 46.3L228.4 42.8L230.2 39.3L233.2 36.8L237.2 35.6L240.7 36.0L244.4 37.8L247.4 40.8L248.4 43.8L247.8 47.8L245.7 51.4L242.2 54.3L238.7 55.3ZM334.2 64.3L330.2 64.6L326.2 63.7L322.8 61.8L320.5 59.3L319.2 56.3L319.2 52.8L320.7 49.4L323.3 46.8L327.7 44.8L332.7 44.5L337.5 45.8L344.2 50.0L350.7 47.7L353.2 48.3L354.8 49.8L355.7 51.8L355.8 53.8L355.3 55.8L354.1 57.3L351.2 58.0L345.2 56.6L339.2 62.1L334.2 64.3ZM243.7 89.9L240.2 89.8L236.7 87.4L234.3 83.3L233.1 77.8L233.3 72.3L234.9 67.3L237.7 63.6L241.2 61.8L244.7 62.5L247.7 65.1L249.9 69.3L250.9 74.3L250.8 79.3L249.3 84.3L246.7 88.0L243.7 89.9ZM287.2 77.8L285.2 77.1L284.2 75.3L284.6 72.8L286.2 71.5L288.2 72.2L289.6 74.3L289.2 76.6L287.2 77.8ZM340.7 86.4L338.2 86.6L336.2 86.0L334.2 84.5L333.0 82.3L332.7 79.8L333.5 77.3L335.2 75.4L337.2 74.4L339.7 74.2L342.2 75.1L344.0 76.8L344.9 78.8L345.1 81.3L344.4 83.3L342.7 85.3L340.7 86.4ZM287.2 92.4L285.2 92.4L283.7 91.9L282.2 90.4L281.6 88.8L282.3 85.3L283.7 83.8L285.7 82.9L287.2 83.0L288.7 83.9L290.5 87.3L289.9 90.3L287.2 92.4ZM268.7 89.5L267.2 89.5L265.8 88.3L265.9 86.3L267.2 85.2L268.8 85.3L270.1 86.8L270.0 88.3L268.7 89.5ZM306.2 98.9L303.2 99.0L300.7 97.9L298.6 95.8L297.6 93.3L297.6 90.8L298.7 88.1L300.7 86.1L303.2 85.1L305.7 85.0L308.2 85.9L310.3 87.8L311.5 90.3L311.6 93.3L310.6 95.8L308.7 97.8L306.2 98.9ZM251.2 106.9L246.9 106.8L243.0 104.8L241.0 101.8L240.9 100.3L241.7 98.9L243.7 97.7L246.2 97.6L249.2 98.3L252.2 100.2L253.8 102.3L254.1 104.3L253.2 105.9L251.2 106.9ZM326.2 108.8L322.6 108.8L319.7 108.1L318.0 106.8L318.0 105.3L321.2 102.8L327.2 101.3L332.7 101.4L335.1 102.3L336.0 103.3L335.7 105.1L333.6 106.8L330.2 108.1L326.2 108.8ZM279.7 110.4L276.2 110.0L274.0 107.3L273.9 105.3L274.5 103.8L277.2 101.7L280.7 102.1L282.9 104.8L283.1 106.8L282.6 108.3L281.2 109.8L279.7 110.4ZM283.2 152.3L280.2 152.0L277.7 150.9L275.6 149.3L273.8 146.8L272.4 141.8L272.7 133.8L271.4 132.3L266.1 128.8L264.4 126.3L264.4 123.8L266.3 121.8L268.7 121.0L271.2 120.9L276.7 122.8L287.2 132.5L289.8 135.8L291.5 140.8L290.9 146.3L289.5 148.8L287.7 150.6L285.7 151.8L283.2 152.3ZM350.2 150.4L346.2 150.5L342.7 148.9L340.2 146.3L337.2 141.2L335.2 139.7L332.7 140.0L327.2 142.8L324.2 143.7L320.7 143.6L317.7 142.3L314.7 139.3L313.0 134.8L313.1 130.3L314.8 126.3L316.7 124.2L319.2 122.8L321.7 122.2L324.7 122.3L327.7 123.6L330.2 125.8L331.8 128.3L334.1 134.3L335.7 135.9L338.2 136.0L344.2 133.3L347.2 132.6L350.2 132.8L353.2 134.2L355.2 136.2L356.4 138.3L357.0 140.8L356.9 143.3L356.0 145.8L354.6 147.8L352.7 149.3L350.2 150.4Z"/>
<path fill="#ff8c00" fill-rule="evenodd" d="M286.7 51.3L284.2 51.0L281.8 47.3L281.7 43.8L283.2 41.1L286.7 39.4L292.2 39.2L296.7 38.0L299.1 38.8L299.6 40.3L298.7 42.2L294.7 44.9L290.2 49.7L286.7 51.3ZM238.7 51.4L236.2 51.2L234.2 50.2L232.7 48.6L231.8 46.3L232.0 43.8L233.0 41.8L234.7 40.2L237.2 39.4L239.7 39.6L241.7 40.5L243.4 42.3L244.1 44.3L243.9 46.8L242.9 48.8L241.2 50.4L238.7 51.4ZM332.2 62.3L328.7 62.1L325.6 60.8L323.2 58.6L321.9 55.8L322.0 52.8L323.2 50.3L325.7 48.1L328.7 46.9L332.7 46.8L336.2 47.8L339.3 50.3L340.8 53.3L340.5 56.3L338.7 59.3L335.7 61.4L332.2 62.3ZM283.7 63.8L281.7 64.1L279.7 63.4L278.6 62.3L277.9 60.3L278.2 58.3L279.1 56.8L280.7 55.5L282.7 54.8L284.7 55.5L286.2 58.8L285.8 61.8L283.7 63.8ZM243.7 86.4L240.7 86.5L238.2 84.9L236.2 81.8L235.2 77.8L235.3 73.3L236.6 69.3L238.7 66.6L241.7 65.3L244.2 65.8L246.4 67.8L248.0 70.8L248.8 74.3L248.7 78.3L247.8 81.8L245.9 84.8L243.7 86.4ZM338.7 82.3L337.6 81.8L337.0 80.3L337.7 78.9L339.2 78.5L340.5 79.3L340.8 80.8L340.2 81.8L338.7 82.3ZM286.2 88.4L285.7 88.3L285.7 87.6L286.4 87.8L286.2 88.4ZM305.2 96.3L303.2 96.1L301.8 95.3L300.3 92.3L301.2 89.3L304.2 87.7L307.2 88.5L308.9 91.3L308.2 94.4L306.7 95.8L305.2 96.3ZM324.2 139.8L321.7 139.9L319.2 138.8L317.4 136.8L316.5 134.3L316.6 131.3L317.7 128.8L319.7 126.9L321.7 126.1L324.2 126.2L326.5 127.3L328.2 129.3L329.2 131.8L329.3 134.3L328.5 136.8L326.7 138.7L324.2 139.8ZM283.7 148.4L281.2 148.4L279.2 147.5L277.3 145.8L276.1 143.3L275.9 140.3L276.5 137.8L278.2 135.3L280.2 134.2L282.7 134.4L285.2 135.8L286.9 137.8L288.0 140.3L288.1 142.8L287.4 145.3L285.8 147.3L283.7 148.4ZM348.7 147.4L346.2 147.1L344.2 146.0L342.7 144.2L341.9 141.8L342.1 139.8L343.2 137.8L345.2 136.4L347.2 135.8L349.7 136.0L351.7 137.1L353.1 138.8L353.8 140.8L353.7 142.8L352.7 145.0L350.7 146.7L348.7 147.4Z"/>
<path fill="#ff4800" fill-rule="evenodd" d="M332.7 58.9L328.7 58.5L326.2 56.3L325.9 53.3L328.2 50.7L330.2 50.0L332.7 50.1L334.7 51.0L336.2 52.6L336.7 54.3L336.2 56.3L334.7 58.0L332.7 58.9ZM243.2 81.4L241.7 81.7L240.2 81.0L239.0 79.3L238.4 77.3L238.9 72.8L240.2 71.0L241.7 70.3L244.2 71.4L245.6 74.8L245.2 78.8L243.2 81.4Z"/>
</g>

<circle cx="292.2" cy="94.3" r="76.5" fill="none" stroke="#555" stroke-width="0.8"/>
<line x1="215.7" y1="94.3" x2="368.7" y2="94.3" stroke="#222" stroke-width="0.9"/>
<line x1="292.2" y1="17.8" x2="292.2" y2="170.8" stroke="#222" stroke-width="0.9"/>
<clipPath id="pf2"><path d="M407.0 94.3A76.5 76.5 0 1 1 560.0 94.3A76.5 76.5 0 1 1 407.0 94.3Z"/></clipPath>
<g clip-path="url(#pf2)">
<path fill="#0000ff" d="M407.0 94.3A76.5 76.5 0 1 1 560.0 94.3A76.5 76.5 0 1 1 407.0 94.3Z"/>
<path fill="#008c69" fill-rule="evenodd" d="M484.0 51.8L479.5 51.9L475.5 50.3L472.8 47.8L470.4 43.3L469.5 42.5L464.0 44.2L460.0 44.5L455.5 43.4L451.6 40.8L448.4 36.3L447.2 31.3L448.1 25.8L450.9 21.3L455.5 18.0L461.5 16.9L466.5 18.0L471.8 21.3L473.5 21.7L474.5 21.0L476.5 16.3L479.2 13.8L500.7 13.8L502.5 15.2L504.8 18.8L504.9 20.8L504.3 22.8L502.9 24.8L500.5 26.8L492.5 30.0L491.8 34.3L492.4 41.8L491.6 45.3L488.5 49.6L484.0 51.8ZM516.0 61.8L510.0 61.9L507.0 60.5L502.3 55.8L500.2 50.3L500.3 45.3L502.5 40.3L506.5 36.5L511.5 34.6L517.0 34.8L522.0 37.1L525.8 41.3L527.7 46.8L527.4 51.8L524.6 56.8L521.0 60.0L516.0 61.8ZM544.5 65.9L541.0 66.1L537.0 64.6L533.8 61.8L531.7 58.3L530.6 54.3L530.8 50.3L532.7 46.8L535.5 44.8L539.5 44.3L543.5 45.6L546.7 48.3L549.2 52.3L550.2 56.8L549.7 60.8L547.5 64.2L544.5 65.9ZM434.5 128.4L431.5 128.6L428.5 128.0L425.5 126.5L423.3 124.3L421.6 121.3L420.9 118.3L421.0 114.8L422.1 111.8L425.0 108.2L429.5 105.9L434.0 105.7L439.5 107.6L440.5 107.4L442.6 102.3L445.5 98.9L449.5 96.9L455.0 96.1L455.1 87.8L449.0 92.0L446.5 92.5L444.5 92.2L442.4 90.8L440.8 87.8L440.0 77.7L438.5 77.2L431.5 78.4L427.5 78.2L423.5 76.5L420.1 73.3L418.4 70.3L417.6 66.8L417.8 63.3L418.8 60.3L420.5 57.6L423.0 55.3L426.0 53.8L429.5 53.1L434.5 53.8L438.7 56.3L441.2 59.3L444.5 66.5L446.0 68.1L455.5 67.0L464.5 67.7L469.0 67.4L471.5 67.9L474.0 69.4L476.1 72.3L476.8 75.3L475.8 79.3L472.4 83.3L474.9 87.8L476.2 91.8L474.7 96.8L475.5 97.5L481.0 98.0L485.0 100.0L488.3 103.3L489.6 107.3L489.3 110.3L487.9 113.3L485.3 115.8L482.0 117.5L477.5 118.3L472.5 117.7L469.0 116.0L465.0 112.1L464.0 112.0L460.0 116.8L456.0 119.0L451.0 119.4L444.5 117.6L442.6 122.3L440.8 124.8L438.0 127.1L434.5 128.4ZM490.0 64.6L489.0 64.7L487.8 63.8L487.7 62.3L488.5 61.5L490.0 61.4L490.9 62.3L490.8 63.8L490.0 64.6ZM523.0 121.9L521.5 121.9L519.5 120.6L516.6 115.8L515.5 110.8L515.7 104.8L512.6 98.3L512.4 93.3L511.9 92.3L509.0 90.8L506.5 90.4L505.8 96.8L503.5 100.5L501.5 102.0L499.0 103.0L494.0 102.7L490.5 100.6L488.4 97.3L487.8 93.3L488.8 88.3L484.3 85.8L482.1 82.8L481.8 79.3L483.5 75.8L486.0 74.0L488.5 73.5L491.0 73.9L494.5 75.4L495.3 70.3L496.5 67.3L499.0 64.6L502.0 62.9L508.0 62.1L511.0 63.6L513.9 66.8L515.3 69.8L515.8 72.8L515.4 77.8L523.0 79.6L528.5 82.9L542.0 83.8L545.3 78.3L547.5 76.8L549.5 76.3L552.0 76.5L554.0 77.4L556.7 80.8L556.9 84.8L556.0 87.0L553.2 90.8L553.6 97.3L551.4 101.8L547.0 105.3L541.0 107.7L534.5 108.6L525.0 108.3L524.5 109.3L525.4 114.3L525.4 117.8L524.5 120.6L523.0 121.9ZM457.6 84.3L461.4 81.8L462.1 80.8L460.8 77.3L460.5 73.8L459.8 73.3L458.5 73.5L457.9 74.3L457.8 78.8L456.6 84.3L457.0 84.7L457.6 84.3ZM497.9 83.8L498.5 81.3L496.4 79.3L495.9 79.8L495.5 83.8L496.5 84.2L497.9 83.8ZM425.5 101.8L421.5 101.7L418.0 100.1L415.3 97.3L413.7 93.3L413.8 89.3L415.7 85.3L418.5 82.8L422.5 81.3L426.5 81.5L430.0 83.2L432.8 86.3L434.2 90.3L433.9 94.3L432.2 97.8L429.0 100.6L425.5 101.8ZM481.0 95.9L478.5 95.2L476.7 92.3L478.1 89.8L480.5 88.8L483.0 89.7L484.1 91.8L483.4 94.3L481.0 95.9ZM464.5 103.8L464.8 102.8L464.0 102.7L464.0 103.6L464.5 103.8ZM505.0 136.3L501.0 136.4L497.0 134.9L494.0 132.0L492.5 128.3L492.4 124.3L494.0 120.4L497.0 117.5L500.5 116.1L504.5 116.0L508.0 117.4L511.0 120.2L512.7 123.8L512.8 127.8L511.4 131.8L509.0 134.6L505.0 136.3ZM547.0 126.4L545.2 125.8L544.4 124.3L545.0 122.6L546.5 121.8L548.1 122.3L549.0 123.8L548.5 125.5L547.0 126.4ZM422.5 141.4L420.0 141.7L418.0 141.2L416.1 139.8L414.9 137.8L414.7 135.3L415.3 133.3L416.5 131.8L418.5 130.6L420.5 130.2L422.9 130.8L424.5 131.9L425.7 133.8L426.1 136.3L425.7 138.3L424.5 140.0L422.5 141.4ZM484.5 174.8L465.1 174.8L462.9 172.3L461.2 167.8L461.9 162.3L461.6 161.3L454.7 156.8L453.4 154.8L453.1 152.8L454.5 150.9L458.0 150.4L462.0 151.1L469.0 153.5L469.4 152.3L469.1 150.3L467.7 147.8L465.5 147.1L459.5 146.7L451.5 149.9L446.0 150.5L442.0 150.2L438.8 148.8L436.8 146.3L436.7 143.3L438.1 140.3L441.1 137.3L445.0 134.9L449.5 133.3L454.5 132.6L467.5 132.9L474.5 135.0L481.5 135.7L486.0 138.0L489.0 141.0L491.3 144.8L492.7 149.3L492.9 153.3L492.0 157.8L489.3 163.3L488.2 170.3L486.4 173.3L484.5 174.8ZM522.5 162.9L517.0 162.5L511.5 159.7L507.7 155.3L506.0 149.8L506.4 143.8L509.3 138.3L513.0 135.1L519.0 133.2L525.0 133.6L530.0 136.2L533.9 140.8L535.7 146.3L535.1 152.3L532.5 157.3L528.0 161.1L522.5 162.9Z"/>
<path fill="#22ff00" fill-rule="evenodd" d="M482.5 50.8L478.5 50.4L474.9 48.3L472.7 45.3L471.0 40.0L470.0 40.0L465.0 42.6L461.0 43.2L456.5 42.4L452.5 39.9L449.6 35.8L448.5 31.3L449.3 26.3L451.7 22.3L456.0 19.2L461.5 18.2L466.0 19.2L472.0 22.9L475.0 23.3L476.0 22.5L476.3 19.3L477.1 17.3L478.8 15.3L481.0 13.8L498.9 13.8L501.5 15.6L503.6 19.3L503.0 22.8L501.5 24.8L499.0 26.6L491.5 29.4L490.7 34.8L491.2 41.8L490.5 44.8L487.5 48.8L485.0 50.2L482.5 50.8ZM516.5 60.4L511.5 60.5L507.0 58.7L503.5 55.3L501.6 50.8L501.5 45.8L503.4 41.3L506.5 38.0L511.0 36.0L516.0 35.9L520.5 37.6L524.2 41.3L526.1 45.8L526.2 50.3L524.4 54.8L521.0 58.4L516.5 60.4ZM543.0 63.9L540.0 63.7L537.5 62.6L535.0 60.3L533.2 57.3L532.5 53.8L532.9 50.8L534.4 48.3L536.5 46.9L539.5 46.4L543.0 47.6L545.6 49.8L547.6 53.3L548.3 56.8L547.6 60.3L545.6 62.8L543.0 63.9ZM433.0 76.8L428.5 76.9L424.5 75.5L421.0 72.3L419.2 68.3L419.0 63.8L420.5 59.8L423.5 56.5L427.5 54.7L432.0 54.5L436.5 56.3L439.9 59.8L441.8 64.3L442.2 69.3L441.2 72.3L438.0 74.9L433.0 76.8ZM537.5 107.4L531.0 107.6L520.0 106.3L516.5 102.4L514.6 99.3L513.9 96.8L513.9 91.8L509.7 89.8L506.1 88.8L504.7 88.8L504.3 89.3L505.1 93.8L504.6 96.8L503.5 98.9L501.5 100.8L499.0 101.9L496.0 102.1L493.0 101.1L491.0 99.5L489.6 97.3L488.9 94.8L489.1 91.8L490.2 89.3L493.0 86.4L499.0 85.6L500.0 84.3L500.3 81.3L496.9 76.8L496.1 73.3L496.7 69.3L499.0 65.9L501.5 64.3L504.5 63.4L507.5 63.6L510.0 64.6L512.6 66.8L514.4 70.3L514.6 73.8L513.6 78.8L521.7 80.3L528.0 84.1L536.0 84.5L544.0 85.6L545.0 85.3L546.0 81.3L548.0 79.2L551.0 78.7L553.5 80.0L554.7 82.3L554.5 84.8L553.5 86.5L550.5 89.3L552.1 95.3L551.1 99.8L549.1 102.3L546.0 104.6L542.5 106.1L537.5 107.4ZM435.0 126.9L432.0 127.3L429.0 126.7L426.5 125.5L424.2 123.3L422.8 120.8L422.1 117.8L422.4 114.8L423.6 111.8L427.0 108.4L432.0 106.9L436.5 107.8L441.5 111.2L442.9 104.3L446.0 100.0L450.5 97.9L457.0 97.8L455.7 92.3L456.4 87.8L459.0 84.4L463.7 81.3L461.8 77.3L461.5 72.6L460.0 72.2L457.5 72.6L456.8 73.8L457.0 77.3L456.6 80.8L454.2 86.3L452.0 88.8L449.5 90.6L447.0 91.3L445.0 91.0L442.4 88.8L441.1 84.3L441.8 78.3L443.8 73.3L448.5 69.6L453.5 68.1L458.9 67.8L464.5 68.7L469.0 68.4L472.5 69.5L474.8 71.8L475.8 75.3L474.7 79.3L470.8 82.8L473.7 87.3L474.7 90.8L474.4 94.3L472.7 98.3L473.0 98.8L480.5 99.1L485.5 101.8L487.5 104.3L488.3 106.8L488.2 109.8L487.1 112.3L484.1 115.3L480.0 117.0L475.5 117.2L471.5 116.2L468.0 113.7L465.7 109.8L465.6 106.3L467.7 101.8L461.5 101.1L461.3 101.8L463.1 106.8L463.2 108.8L462.1 112.3L460.0 115.3L456.5 117.6L452.0 118.3L448.0 117.3L443.0 114.0L442.3 119.3L441.0 122.3L438.5 125.2L435.0 126.9ZM489.0 85.8L487.0 85.5L485.0 84.4L483.8 82.8L483.3 80.8L483.5 78.8L484.5 77.0L486.0 75.7L488.0 75.1L490.0 75.2L492.0 76.3L493.3 77.8L493.9 79.8L493.6 82.3L492.5 84.4L491.0 85.5L489.0 85.8ZM425.0 100.3L421.5 100.1L418.5 98.5L416.2 95.8L415.2 92.8L415.4 89.3L417.0 86.1L419.5 84.0L423.0 82.8L426.5 83.2L429.5 84.8L431.6 87.3L432.7 90.8L432.3 94.3L430.6 97.3L428.0 99.4L425.0 100.3ZM481.5 93.4L480.5 93.7L479.6 93.3L479.2 92.3L479.6 91.3L480.5 90.9L481.6 91.3L482.0 92.3L481.5 93.4ZM522.0 118.1L521.0 118.1L519.5 116.9L517.8 113.3L517.8 109.3L519.5 107.1L520.5 107.4L521.5 108.7L523.2 112.8L523.2 116.3L522.0 118.1ZM505.0 134.9L501.5 135.2L498.0 134.0L495.5 131.8L493.9 128.8L493.6 125.3L494.7 121.8L497.0 119.1L500.0 117.5L503.5 117.2L507.0 118.3L509.8 120.8L511.3 123.8L511.6 127.3L510.4 130.8L508.0 133.5L505.0 134.9ZM421.5 138.5L419.0 138.4L417.8 136.8L417.9 134.8L419.5 133.4L421.5 133.5L423.0 135.1L423.0 136.9L421.5 138.5ZM483.0 174.8L466.8 174.8L464.2 172.3L462.6 168.8L462.4 165.8L463.4 160.8L458.0 157.7L455.7 155.3L455.5 153.8L456.2 152.8L459.5 152.0L464.0 153.1L469.0 156.0L471.0 155.7L471.6 153.8L470.2 147.3L469.3 145.8L468.0 145.3L459.0 144.4L450.5 147.8L444.5 148.2L442.0 147.3L440.1 145.3L440.0 142.8L441.3 140.3L443.5 138.2L446.8 136.3L450.5 135.1L454.0 134.8L467.0 134.9L473.5 137.4L481.5 137.6L485.6 139.8L488.0 142.3L490.0 145.8L491.2 149.8L491.3 153.3L490.3 157.3L487.8 161.8L487.7 167.3L487.1 169.8L485.4 172.8L483.0 174.8ZM522.5 161.4L517.5 161.1L512.5 158.6L509.2 154.8L507.5 149.8L507.7 144.8L510.1 139.8L514.0 136.4L519.0 134.7L524.5 135.0L529.0 137.3L532.5 141.3L534.2 146.3L533.7 151.8L531.4 156.3L527.5 159.7L522.5 161.4Z"/>
<path fill="#b4ff00" fill-rule="evenodd" d="M482.5 49.4L478.0 48.6L474.7 45.8L473.3 42.3L473.6 37.3L473.0 36.3L471.0 36.9L466.0 40.6L462.5 41.7L457.5 41.2L453.5 38.8L450.9 35.3L449.9 31.3L450.6 26.8L452.8 23.3L457.0 20.4L462.0 19.7L466.0 20.8L472.0 24.5L477.5 25.3L478.4 24.8L477.6 20.3L478.3 17.8L480.0 15.7L483.0 13.9L496.7 13.8L500.1 15.8L502.1 18.8L501.9 22.3L500.4 24.3L498.4 25.8L490.2 28.8L489.3 34.8L489.8 40.8L489.3 43.8L488.3 45.8L486.5 47.7L482.5 49.4ZM516.5 58.9L512.0 59.1L508.0 57.6L504.9 54.8L503.0 50.8L502.9 46.3L504.4 42.3L507.2 39.3L511.0 37.5L515.5 37.3L519.5 38.7L522.5 41.4L524.5 45.3L524.8 49.8L523.3 53.8L520.5 57.0L516.5 58.9ZM542.5 60.9L540.5 61.0L538.5 60.2L535.7 56.8L535.2 54.3L535.4 52.3L536.5 50.5L538.0 49.6L540.0 49.4L542.0 50.1L544.0 51.8L545.2 53.8L545.7 56.3L545.3 58.3L544.0 60.2L542.5 60.9ZM432.5 75.4L428.5 75.4L425.0 74.1L422.1 71.3L420.6 67.8L420.5 63.8L421.9 60.3L424.5 57.6L428.0 56.1L432.0 56.0L435.5 57.4L438.5 60.3L440.0 63.8L440.2 67.8L438.8 71.3L436.0 73.9L432.5 75.4ZM537.0 106.3L532.5 106.6L528.0 106.2L520.5 103.6L517.8 101.3L516.0 98.3L515.6 95.8L516.4 91.8L516.1 90.8L505.0 87.0L502.9 85.8L502.1 84.3L502.5 81.3L498.7 77.3L497.3 73.8L497.8 69.8L499.8 66.8L502.5 65.1L506.0 64.6L509.0 65.4L511.5 67.3L513.0 69.8L513.5 72.8L512.9 75.8L511.0 79.3L511.3 80.3L520.5 81.3L526.5 85.5L535.0 85.4L540.5 86.4L545.0 88.0L548.0 90.3L549.7 92.8L550.4 95.3L550.1 97.8L548.9 100.3L547.0 102.3L544.0 104.2L537.0 106.3ZM447.5 89.8L445.5 89.6L444.2 88.8L442.4 85.3L442.5 80.3L444.5 75.2L447.0 72.4L450.5 70.5L457.0 69.1L460.5 69.8L460.5 70.3L459.5 70.8L455.2 71.8L456.0 77.8L454.7 83.3L451.5 87.8L447.5 89.8ZM470.0 81.5L466.5 81.4L464.5 79.8L463.2 77.8L462.7 75.3L463.2 72.8L464.0 71.0L465.5 70.0L468.5 69.4L471.0 69.9L473.0 71.3L474.3 73.3L474.7 75.8L474.0 78.3L472.5 80.2L470.0 81.5ZM489.5 83.4L487.0 83.0L485.7 81.3L486.0 78.8L487.5 77.5L490.0 77.7L491.5 79.3L491.4 81.8L489.5 83.4ZM468.0 99.9L464.5 100.2L461.0 99.2L458.5 97.2L456.9 93.8L456.7 90.3L457.7 87.3L460.0 84.7L463.5 83.1L466.5 82.7L469.0 83.7L472.0 86.3L473.5 89.3L473.7 92.8L472.7 95.8L470.5 98.6L468.0 99.9ZM425.5 98.3L423.0 98.4L420.5 97.6L418.4 95.8L417.2 93.3L417.1 90.3L418.1 87.8L420.0 85.9L422.5 84.8L425.0 84.8L427.6 85.8L429.7 87.8L430.7 90.3L430.7 92.8L429.7 95.3L428.0 97.2L425.5 98.3ZM498.0 100.8L495.5 100.8L493.0 99.6L491.0 97.4L490.1 94.8L490.3 92.3L491.5 89.8L493.5 88.0L496.0 87.1L498.5 87.2L501.0 88.1L502.9 90.3L503.8 92.8L503.7 95.8L502.5 98.2L500.5 100.0L498.0 100.8ZM454.5 116.9L451.0 116.9L447.9 115.8L445.2 113.3L443.7 110.3L443.6 106.8L444.8 103.3L447.1 100.8L450.5 99.2L454.0 99.0L457.5 100.3L460.0 102.7L461.4 105.8L461.6 109.3L460.3 112.8L458.0 115.3L454.5 116.9ZM479.5 115.9L476.0 116.1L472.5 115.3L470.0 113.8L467.9 111.3L467.0 108.8L467.4 105.8L469.0 103.1L471.5 101.1L475.5 99.9L480.0 100.2L483.5 101.8L486.2 104.8L487.0 108.3L485.8 111.8L483.0 114.5L479.5 115.9ZM435.0 125.3L431.5 125.7L428.5 124.9L425.8 122.8L424.1 119.8L423.7 116.3L424.5 113.3L426.5 110.7L429.5 108.9L433.0 108.5L436.0 109.3L438.7 111.3L440.5 114.3L440.9 117.8L440.1 120.8L438.0 123.6L435.0 125.3ZM505.0 133.3L502.0 133.7L499.5 133.0L497.1 131.3L495.6 128.8L495.1 125.8L495.7 123.3L497.4 120.8L500.0 119.2L503.0 118.7L506.0 119.5L508.3 121.3L509.7 123.8L510.1 126.8L509.4 129.3L507.6 131.8L505.0 133.3ZM524.0 159.4L519.5 159.7L515.0 158.3L511.5 155.3L509.5 151.3L509.1 146.8L510.5 142.3L513.5 138.7L517.5 136.7L522.0 136.3L526.5 137.7L530.1 140.8L532.2 144.8L532.5 149.3L531.1 153.8L528.0 157.3L524.0 159.4ZM448.5 144.8L446.5 144.5L445.1 143.3L445.2 141.8L446.3 140.3L448.5 139.0L451.0 138.3L453.0 138.4L454.9 139.3L455.3 140.8L453.6 142.8L451.0 144.3L448.5 144.8ZM467.0 140.9L464.5 141.0L463.2 139.8L464.2 138.8L466.5 138.8L467.6 139.8L467.0 140.9ZM481.0 174.8L468.9 174.8L465.4 171.8L464.2 169.8L463.7 167.3L464.2 163.8L466.6 159.3L473.2 156.8L474.1 155.8L472.5 148.8L473.1 142.8L475.5 140.6L479.0 139.6L482.5 140.3L486.0 142.8L488.3 146.3L489.4 150.8L488.7 155.8L485.7 160.8L486.4 166.3L486.0 169.3L484.0 172.6L481.0 174.8ZM464.5 157.5L462.5 157.6L460.5 156.8L459.5 155.8L459.5 154.9L461.0 154.4L463.0 154.9L464.7 156.3L464.5 157.5Z"/>
<path fill="#ffd700" fill-rule="evenodd" d="M483.5 47.3L480.5 47.6L478.0 46.6L476.1 44.8L475.1 42.3L475.6 38.3L477.5 35.4L480.5 32.8L481.7 27.8L481.5 25.8L479.2 21.3L479.4 18.8L481.5 16.1L485.5 14.1L493.0 13.8L495.5 14.5L498.1 15.8L500.1 17.8L500.8 19.8L500.5 21.8L499.1 23.8L497.0 25.3L489.7 27.3L488.3 28.3L487.3 34.8L488.0 40.3L487.8 42.8L486.0 45.8L483.5 47.3ZM463.0 39.9L459.5 40.0L456.0 38.7L453.4 36.3L451.8 32.8L451.7 29.3L453.0 25.7L455.5 23.1L459.0 21.5L462.0 21.3L465.0 22.1L471.0 26.0L476.5 27.9L478.2 29.8L478.1 31.3L477.2 32.3L471.5 34.1L466.5 38.4L463.0 39.9ZM516.0 57.3L512.5 57.5L509.0 56.3L506.2 53.8L504.6 50.3L504.5 46.8L505.8 43.3L508.0 40.8L511.5 39.1L515.0 38.9L518.5 40.0L521.1 42.3L522.9 45.8L523.1 49.3L522.0 52.8L519.5 55.7L516.0 57.3ZM431.0 73.8L428.0 73.5L425.0 71.9L422.9 69.3L422.1 66.3L422.4 63.3L424.0 60.5L426.5 58.5L429.5 57.6L432.5 57.9L435.5 59.5L437.6 62.3L438.4 65.3L438.0 68.3L436.5 71.0L434.0 72.9L431.0 73.8ZM507.5 79.4L505.0 79.7L502.5 78.8L500.5 77.3L499.0 74.8L498.7 72.3L499.5 69.5L501.0 67.6L503.5 66.2L506.0 66.0L508.5 66.7L510.5 68.3L511.9 70.8L512.1 73.3L511.4 75.8L509.9 77.8L507.5 79.4ZM470.0 80.0L466.5 79.6L465.0 78.3L464.2 76.8L464.6 73.3L467.0 71.1L470.5 71.2L472.0 72.2L473.0 73.8L473.0 77.3L472.0 78.8L470.0 80.0ZM449.0 87.8L446.5 88.1L444.6 86.8L443.5 84.3L443.6 80.8L444.8 77.3L446.5 74.8L449.0 73.0L451.5 72.6L453.0 73.3L454.1 74.8L454.8 77.3L454.6 79.8L452.6 84.8L449.0 87.8ZM519.0 88.3L515.0 88.1L506.6 85.3L505.5 84.3L505.5 83.5L507.5 82.4L519.0 82.9L521.0 84.2L521.6 85.8L521.0 87.9L519.0 88.3ZM467.5 98.9L464.5 99.2L461.5 98.3L459.2 96.3L457.9 93.8L457.6 90.8L458.6 87.8L460.5 85.6L463.0 84.3L466.0 84.0L468.5 84.7L471.0 86.7L472.4 89.3L472.8 92.3L471.8 95.3L470.0 97.5L467.5 98.9ZM535.5 105.3L530.5 105.3L526.0 104.4L522.0 102.7L519.2 100.3L517.8 97.8L517.6 94.8L521.0 88.6L529.0 86.8L535.5 86.7L542.0 88.3L546.5 91.3L547.9 93.3L548.5 95.8L548.0 98.3L546.8 100.3L542.0 103.7L535.5 105.3ZM424.0 95.8L421.0 94.7L419.7 91.8L420.0 90.0L421.0 88.5L424.0 87.4L427.0 88.7L428.1 91.8L427.0 94.5L424.0 95.8ZM498.0 99.3L496.0 99.3L494.0 98.5L492.3 96.8L491.6 94.8L491.7 92.8L492.6 90.8L494.0 89.5L496.0 88.7L498.0 88.7L500.0 89.5L501.4 90.8L502.3 92.8L502.4 94.8L501.5 97.0L500.0 98.5L498.0 99.3ZM454.5 115.3L451.5 115.5L448.5 114.4L446.3 112.3L445.2 109.8L445.1 106.8L446.0 104.3L448.0 102.0L450.5 100.7L453.5 100.5L456.2 101.3L458.5 103.2L459.9 105.8L460.1 108.8L459.2 111.8L457.0 114.2L454.5 115.3ZM477.5 114.8L474.5 114.5L471.7 113.3L469.7 111.3L468.7 108.8L468.9 106.3L470.4 103.8L472.5 102.2L475.5 101.3L479.0 101.4L482.0 102.5L484.4 104.8L485.3 107.3L485.0 109.8L483.5 112.3L481.0 114.0L477.5 114.8ZM433.0 123.9L430.5 123.6L428.0 122.4L426.3 120.3L425.5 117.8L425.8 115.3L427.0 112.8L429.0 111.2L431.5 110.4L434.0 110.5L436.5 111.8L438.2 113.8L439.0 116.3L438.9 118.8L437.6 121.3L435.5 123.1L433.0 123.9ZM504.5 131.4L502.5 131.7L500.5 131.3L498.5 129.9L497.5 128.3L497.1 126.3L497.5 124.0L498.7 122.3L500.5 121.1L503.0 120.7L505.0 121.2L506.5 122.3L507.8 124.3L508.1 126.3L507.7 128.3L506.5 130.1L504.5 131.4ZM521.5 157.8L518.0 157.5L514.5 155.6L512.0 152.4L511.0 148.8L511.3 145.3L513.1 141.8L516.2 139.3L520.0 138.2L523.5 138.5L527.0 140.3L529.5 143.3L530.6 147.3L530.3 150.8L528.4 154.3L525.5 156.7L521.5 157.8ZM477.0 174.8L472.5 174.8L468.5 173.0L465.8 169.8L465.1 165.8L466.5 162.5L469.0 160.0L471.5 158.9L478.4 157.3L475.5 151.8L475.1 147.3L475.8 145.3L477.0 143.7L478.5 142.9L480.5 142.7L483.3 143.8L485.5 146.2L486.8 149.3L486.9 152.3L485.4 155.8L481.6 158.3L484.7 164.8L484.9 167.3L484.3 169.8L481.5 173.0L477.0 174.8Z"/>
<path fill="#ff8c00" fill-rule="evenodd" d="M490.5 25.8L485.5 25.9L482.5 23.8L481.2 21.8L480.9 20.3L482.3 17.3L485.5 15.4L490.0 14.6L494.5 15.4L497.7 17.3L499.0 19.8L498.0 22.8L495.0 24.8L490.5 25.8ZM463.0 37.8L460.0 38.0L457.5 37.2L455.2 35.3L453.9 32.8L453.7 29.8L454.5 27.2L456.5 24.8L459.0 23.6L462.0 23.4L465.0 24.4L468.8 27.3L470.6 29.8L470.3 31.3L467.5 34.8L465.2 36.8L463.0 37.8ZM483.0 44.9L481.0 45.1L479.5 44.6L478.1 43.3L477.6 41.8L477.6 40.3L478.5 38.5L481.5 36.8L484.0 37.3L485.5 39.8L485.2 42.8L483.0 44.9ZM515.5 55.4L512.5 55.5L510.0 54.5L507.7 52.3L506.6 49.8L506.5 46.8L507.5 44.3L509.5 42.2L512.0 41.0L515.0 40.9L517.5 41.8L519.7 43.8L520.9 46.3L521.1 49.3L520.3 51.8L518.0 54.3L515.5 55.4ZM432.0 71.3L429.5 71.5L427.5 70.9L425.5 69.3L424.5 67.3L424.4 64.8L425.1 62.8L426.5 61.1L428.5 60.1L431.0 59.9L433.0 60.5L434.6 61.8L435.8 63.8L436.1 66.3L435.5 68.3L434.0 70.2L432.0 71.3ZM507.0 77.4L505.0 77.7L503.0 77.1L500.7 74.3L500.4 72.3L501.0 70.3L502.3 68.8L504.0 67.9L506.0 67.8L507.7 68.3L509.4 69.8L510.2 71.3L509.9 74.8L508.8 76.3L507.0 77.4ZM470.0 77.9L468.0 78.1L466.3 76.8L466.1 74.8L467.5 73.1L469.5 72.9L471.1 74.3L471.3 76.3L470.0 77.9ZM449.0 85.8L447.5 86.0L446.0 85.2L445.1 83.3L445.1 80.8L445.9 78.3L447.5 76.1L449.5 74.9L451.0 74.8L452.9 76.8L453.0 80.3L451.5 83.7L449.0 85.8ZM466.5 97.9L464.0 97.9L461.5 96.9L459.9 95.3L458.9 92.8L458.9 90.3L460.0 87.8L462.0 86.0L464.0 85.3L466.5 85.3L468.8 86.3L470.5 88.0L471.5 90.3L471.5 92.8L470.5 95.2L469.0 96.8L466.5 97.9ZM536.5 103.8L529.0 103.7L522.9 101.3L520.8 99.3L519.9 97.3L519.8 94.8L520.7 92.8L524.5 89.7L531.0 88.0L537.5 88.4L543.0 90.6L544.8 92.3L546.0 94.3L546.3 96.3L545.8 98.3L544.3 100.3L542.3 101.8L536.5 103.8ZM497.0 97.3L494.6 96.3L493.7 93.8L494.5 91.8L497.0 90.7L499.5 91.8L500.3 93.8L499.4 96.3L497.0 97.3ZM454.5 113.4L452.0 113.7L450.0 113.1L448.3 111.8L447.2 109.8L446.9 107.8L447.3 105.8L448.5 104.0L450.5 102.7L452.5 102.3L454.9 102.8L456.5 103.8L457.9 105.8L458.3 108.3L457.8 110.3L456.5 112.2L454.5 113.4ZM479.0 112.9L474.8 112.8L471.5 110.5L470.8 108.8L470.9 106.8L473.0 104.0L475.5 103.0L478.0 102.9L480.6 103.8L482.5 105.5L483.3 107.8L482.9 109.8L481.2 111.8L479.0 112.9ZM434.0 120.9L431.0 121.1L429.5 120.2L428.5 118.8L428.3 115.8L430.5 113.3L433.5 113.1L435.0 113.9L436.1 115.3L436.3 118.3L435.5 119.8L434.0 120.9ZM503.5 128.3L502.0 128.4L500.6 127.3L500.5 125.3L501.5 124.2L503.5 124.1L504.7 125.3L504.8 126.8L503.5 128.3ZM522.0 155.3L519.0 155.2L516.5 154.0L514.5 151.9L513.5 149.3L513.6 146.3L514.7 143.8L516.7 141.8L519.5 140.7L522.5 140.8L525.0 141.9L527.0 143.9L528.1 146.8L528.0 149.8L526.8 152.3L524.7 154.3L522.0 155.3ZM481.0 150.4L481.0 149.6L481.0 150.4ZM477.5 173.3L474.5 173.6L472.0 173.2L469.4 171.8L467.6 169.8L466.9 167.8L467.0 165.3L468.0 163.2L470.0 161.3L473.5 160.0L477.0 160.0L480.0 161.1L482.2 163.3L483.2 166.3L482.7 169.3L480.6 171.8L477.5 173.3Z"/>
<path fill="#ff4800" fill-rule="evenodd" d="M491.5 24.3L487.5 24.3L484.5 22.9L483.2 20.8L483.9 18.3L486.0 16.8L489.5 16.0L493.0 16.4L495.5 17.7L496.8 19.8L496.3 21.8L494.5 23.3L491.5 24.3ZM463.0 34.9L459.5 35.0L457.0 32.8L456.7 29.3L457.5 27.8L459.0 26.6L461.0 26.1L463.0 26.5L465.0 27.7L466.0 29.2L466.3 30.8L465.8 32.3L463.0 34.9ZM515.5 52.4L512.0 52.4L510.5 51.3L509.6 49.8L509.7 46.3L512.0 44.0L515.5 44.0L517.9 46.3L518.0 49.8L517.0 51.4L515.5 52.4ZM431.0 67.3L429.5 67.4L428.5 66.4L428.5 65.1L429.5 64.0L431.0 64.1L431.8 64.8L431.9 66.3L431.0 67.3ZM506.5 74.4L505.0 74.7L503.7 73.8L503.4 72.3L504.5 70.8L506.0 70.7L507.2 71.8L507.4 73.3L506.5 74.4ZM449.5 81.8L448.5 82.1L447.8 80.8L448.4 79.3L449.5 78.6L450.4 79.8L449.5 81.8ZM466.5 96.4L464.5 96.5L462.5 95.8L460.4 92.8L460.3 90.8L461.0 88.9L464.0 86.8L466.0 86.7L467.7 87.3L469.0 88.4L470.0 90.3L470.1 92.3L469.5 94.1L468.0 95.7L466.5 96.4ZM535.5 102.3L530.0 102.3L525.0 100.3L523.4 98.8L522.4 96.8L522.5 94.8L523.3 93.3L526.5 90.8L531.5 89.5L537.0 90.0L541.2 91.8L543.5 94.8L543.3 97.8L540.2 100.8L535.5 102.3ZM454.0 110.4L452.0 110.7L450.2 109.3L449.9 107.3L451.0 105.7L453.0 105.3L455.0 106.6L455.2 108.8L454.0 110.4ZM478.0 110.3L476.0 110.3L474.4 109.3L474.0 107.8L475.0 106.1L477.5 105.6L479.7 106.8L479.9 108.8L478.0 110.3ZM522.0 151.4L519.4 151.3L517.5 149.3L517.5 146.6L519.5 144.7L522.4 144.8L524.2 146.8L524.0 149.6L522.0 151.4ZM476.0 171.8L473.5 171.7L471.5 170.9L470.0 169.7L469.0 167.8L469.0 165.8L469.7 164.3L473.0 162.0L475.5 161.7L477.9 162.3L479.5 163.3L480.8 165.3L481.1 167.3L480.3 169.3L478.5 170.9L476.0 171.8Z"/>
<path fill="#ff0000" fill-rule="evenodd" d="M492.0 21.8L490.0 22.3L488.0 21.9L486.8 20.8L486.7 19.8L488.5 18.4L491.5 18.4L493.2 19.8L493.2 20.8L492.0 21.8ZM466.0 94.4L464.0 94.2L462.4 92.3L462.6 90.3L464.5 88.8L466.5 89.0L468.0 90.8L467.8 92.8L466.0 94.4ZM534.0 100.3L530.0 100.0L527.0 98.4L525.9 96.3L526.8 93.8L529.5 92.2L533.0 91.6L536.5 92.2L539.0 93.6L540.1 95.8L539.5 97.8L537.5 99.4L534.0 100.3ZM475.5 168.9L473.5 168.5L472.5 167.3L472.8 165.8L474.0 164.9L476.0 164.9L477.5 166.3L477.2 167.8L475.5 168.9Z"/>
</g>

<circle cx="483.5" cy="94.3" r="76.5" fill="none" stroke="#555" stroke-width="0.8"/>
<line x1="407.0" y1="94.3" x2="560.0" y2="94.3" stroke="#222" stroke-width="0.9"/>
<line x1="483.5" y1="17.8" x2="483.5" y2="170.8" stroke="#222" stroke-width="0.9"/>
<clipPath id="ipf0"><path d="M36.5 349.5L150.3 235.7A439.8 439.8 0 0 1 165.3 349.5Z"/></clipPath>
<g clip-path="url(#ipf0)">
<path fill="#0000ff" d="M36.5 349.5L150.3 235.7A439.8 439.8 0 0 1 165.3 349.5Z"/>
<path fill="#008c69" fill-rule="evenodd" d="M104.0 353.5L75.6 353.5L73.8 342.0L72.0 339.8L66.0 337.0L63.5 334.8L62.0 331.0L62.5 326.0L65.5 318.0L76.7 296.5L78.1 292.0L79.5 281.0L81.1 274.5L84.2 267.5L89.0 260.5L97.0 252.8L102.0 249.5L107.0 247.1L112.5 245.4L117.5 244.5L123.0 244.4L128.0 245.1L136.0 248.2L148.5 256.9L162.5 261.7L169.5 265.5L169.5 302.5L162.5 306.3L154.0 308.6L146.0 309.0L133.5 308.0L129.0 308.5L111.5 314.6L105.9 317.5L103.1 320.5L102.1 324.0L104.9 341.0L104.9 349.0L104.4 353.5L104.0 353.5Z"/>
<path fill="#22ff00" fill-rule="evenodd" d="M79.5 331.0L73.5 331.4L69.9 330.0L68.7 328.5L68.1 326.5L68.6 321.5L71.3 314.5L80.9 295.0L82.1 290.5L83.8 278.5L86.4 271.0L88.9 266.5L92.2 262.0L96.1 258.0L100.5 254.5L107.0 251.0L113.5 248.9L120.0 248.1L126.5 248.8L134.0 251.8L145.5 260.0L161.5 265.3L166.0 267.8L169.5 270.7L169.5 297.3L166.0 300.1L159.5 303.4L152.0 305.2L145.0 305.4L134.0 304.1L129.5 304.5L109.0 311.3L104.5 313.2L100.2 316.0L86.5 328.3L83.5 329.9L79.5 331.0Z"/>
<path fill="#b4ff00" fill-rule="evenodd" d="M82.5 321.0L79.5 321.3L77.7 320.5L76.8 318.5L76.9 316.0L78.8 309.5L85.6 293.5L87.6 280.5L89.1 275.0L91.7 269.5L95.6 264.0L100.5 259.4L106.0 255.9L111.0 253.8L116.5 252.7L122.0 252.6L127.0 253.7L132.5 256.4L143.0 264.3L155.5 267.8L161.0 270.2L165.3 273.5L168.2 277.5L169.5 280.9L169.5 287.1L168.9 289.0L165.5 294.2L160.0 298.3L155.0 300.2L149.5 301.1L144.0 300.9L134.0 299.5L128.5 300.2L104.5 308.7L88.0 318.7L82.5 321.0Z"/>
<path fill="#ffd700" fill-rule="evenodd" d="M92.0 308.1L90.1 308.0L89.0 307.4L88.2 304.5L91.0 293.0L92.6 281.0L94.1 275.5L96.9 270.0L100.5 265.6L105.0 261.9L110.0 259.3L114.0 258.2L118.0 257.7L122.0 258.1L125.5 259.1L130.5 262.0L139.0 269.6L142.5 271.1L150.5 272.6L155.0 274.1L159.2 277.0L161.6 280.5L162.3 284.5L161.1 288.5L158.5 291.6L154.5 294.0L151.0 295.0L147.0 295.3L135.5 293.3L131.0 293.6L117.0 299.5L92.0 308.1Z"/>
<path fill="#ff8c00" fill-rule="evenodd" d="M108.0 295.1L102.5 294.7L100.9 293.5L99.8 291.5L99.1 287.5L99.1 283.0L99.8 279.0L101.3 275.0L105.5 269.5L111.0 266.0L117.0 264.7L120.0 265.1L123.0 266.2L126.6 269.0L129.5 273.5L130.6 278.0L129.8 282.0L126.3 286.5L120.5 290.8L114.5 293.6L108.0 295.1Z"/>
</g>

<path d="M36.5 349.5L150.3 235.7A439.8 439.8 0 0 1 165.3 349.5Z" fill="none" stroke="#666" stroke-width="0.6"/>
<clipPath id="ipf1"><path d="M228.1 349.5L341.9 235.7A439.8 439.8 0 0 1 356.9 349.5Z"/></clipPath>
<g clip-path="url(#ipf1)">
<path fill="#0000ff" d="M228.1 349.5L341.9 235.7A439.8 439.8 0 0 1 356.9 349.5Z"/>
<path fill="#008c69" fill-rule="evenodd" d="M361.1 353.7L322.0 353.5L322.0 350.0L322.7 331.5L324.9 314.0L328.4 297.5L333.3 282.5L339.1 270.2L345.8 260.5L353.1 253.9L357.1 251.7L361.1 250.4L361.1 353.7ZM289.6 353.5L266.4 353.5L263.9 332.5L262.1 329.2L255.3 321.5L253.9 318.5L253.1 315.0L253.3 309.5L254.8 304.0L257.5 298.5L261.5 293.0L266.2 288.5L271.6 284.7L277.1 282.3L282.6 281.1L289.1 281.5L294.1 284.0L297.4 288.0L298.9 293.5L298.8 298.0L297.7 303.0L291.3 317.0L290.0 321.5L291.0 341.0L289.6 353.5Z"/>
<path fill="#22ff00" fill-rule="evenodd" d="M361.1 353.7L325.8 353.5L325.8 350.0L326.4 333.5L328.4 317.5L331.5 302.5L335.8 289.0L341.1 277.7L347.1 268.8L354.1 262.4L357.6 260.4L361.1 259.2L361.1 353.7ZM281.6 353.5L274.3 353.5L273.6 352.5L271.4 345.0L270.9 332.5L270.3 329.5L268.3 326.5L262.6 322.0L259.8 319.0L258.1 315.5L257.5 311.0L258.1 306.5L259.8 302.0L262.5 297.5L266.1 293.3L270.1 290.0L274.6 287.5L279.1 285.9L283.6 285.5L288.1 286.5L291.7 289.0L293.9 293.0L294.5 297.5L293.9 301.5L292.4 306.0L285.3 319.0L283.8 323.0L283.4 327.0L284.8 336.0L284.9 342.5L283.7 349.0L281.6 353.5Z"/>
<path fill="#b4ff00" fill-rule="evenodd" d="M361.1 353.6L330.0 353.5L330.0 350.0L330.6 335.0L332.3 320.5L335.2 307.0L338.9 295.5L343.6 285.5L349.1 277.4L355.1 271.8L361.1 269.0L361.1 353.6ZM275.1 318.0L270.1 317.9L267.6 316.8L265.5 315.0L264.2 313.0L263.5 310.5L264.1 305.0L267.1 299.3L272.2 294.5L278.1 291.8L281.1 291.6L283.6 292.0L286.2 293.5L288.1 296.5L288.5 300.0L287.7 304.0L285.6 308.5L282.1 313.3L278.6 316.4L275.1 318.0Z"/>
<path fill="#ffd700" fill-rule="evenodd" d="M361.1 353.6L334.7 353.5L334.7 350.0L335.2 337.0L336.7 325.0L339.0 314.0L342.2 303.5L346.1 294.9L350.6 288.0L355.6 283.0L361.1 280.1L361.1 353.6Z"/>
<path fill="#ff8c00" fill-rule="evenodd" d="M361.1 353.6L340.4 353.5L340.4 350.0L340.7 340.0L341.8 330.5L343.6 321.5L346.2 313.0L349.2 306.0L353.0 300.0L357.1 295.7L361.1 293.4L361.1 353.6Z"/>
<path fill="#ff4800" fill-rule="evenodd" d="M361.1 353.6L347.8 353.5L347.8 350.0L348.7 337.0L351.5 325.0L355.9 316.0L358.4 313.0L361.1 310.9L361.1 353.6Z"/>
</g>

<path d="M228.1 349.5L341.9 235.7A439.8 439.8 0 0 1 356.9 349.5Z" fill="none" stroke="#666" stroke-width="0.6"/>
<clipPath id="ipf2"><path d="M419.2 349.5L533.0 235.7A439.8 439.8 0 0 1 548.0 349.5Z"/></clipPath>
<g clip-path="url(#ipf2)">
<path fill="#0000ff" d="M419.2 349.5L533.0 235.7A439.8 439.8 0 0 1 548.0 349.5Z"/>
<path fill="#008c69" fill-rule="evenodd" d="M504.2 353.5L415.0 353.5L415.2 325.6L423.0 323.0L436.2 316.6L444.7 313.8L457.7 311.4L475.7 310.7L479.2 309.7L481.1 308.0L481.6 305.5L479.8 302.5L467.3 294.0L462.2 289.0L459.6 284.0L459.1 278.5L460.0 275.0L461.5 272.0L463.9 269.0L467.2 266.2L475.7 261.5L486.2 258.4L493.2 257.6L500.7 257.9L509.2 259.4L516.7 261.8L522.7 264.8L527.5 268.5L531.1 273.0L532.8 277.5L532.9 281.5L532.0 285.0L530.1 288.5L527.2 291.8L520.2 296.7L505.5 303.0L502.8 305.0L501.5 307.0L501.1 311.5L506.1 343.5L505.7 349.0L504.2 353.5Z"/>
<path fill="#22ff00" fill-rule="evenodd" d="M495.2 301.0L490.2 300.9L484.2 298.8L474.7 293.8L468.8 289.0L466.0 285.0L464.9 280.5L465.6 276.0L468.0 272.0L472.3 268.0L478.2 264.7L485.2 262.4L492.7 261.3L500.7 261.6L508.7 263.1L515.7 265.7L521.0 269.0L525.1 273.5L526.9 278.0L526.7 283.0L524.0 288.0L519.7 292.0L514.2 295.1L505.2 298.3L495.2 301.0ZM498.7 353.5L415.2 353.7L415.2 327.7L425.7 325.4L441.2 318.3L453.7 315.2L466.2 314.5L489.7 316.6L492.7 318.4L494.9 321.5L500.7 340.0L501.3 344.0L501.2 347.5L500.1 351.5L498.7 353.5Z"/>
<path fill="#b4ff00" fill-rule="evenodd" d="M496.2 295.0L490.2 294.7L484.7 293.1L478.7 290.0L474.7 286.5L472.7 283.0L472.2 279.0L473.7 275.0L476.9 271.5L481.2 268.8L486.2 266.9L492.2 265.9L498.2 265.8L504.2 266.7L509.7 268.4L514.3 271.0L517.5 274.0L519.4 277.5L519.7 281.0L518.5 284.5L516.2 287.5L512.7 290.1L507.7 292.5L501.7 294.2L496.2 295.0ZM492.2 353.5L415.2 353.7L415.2 329.9L430.7 327.7L443.2 321.9L453.2 319.3L463.7 318.7L473.7 320.4L479.7 322.9L484.2 326.0L489.2 331.5L493.4 337.5L495.2 342.0L495.6 346.0L494.5 350.5L492.2 353.5Z"/>
<path fill="#ffd700" fill-rule="evenodd" d="M496.7 288.0L489.7 287.2L484.7 284.1L483.3 282.0L482.9 280.0L483.4 278.0L484.8 276.0L489.2 273.3L495.7 272.2L502.2 273.2L507.0 276.0L508.8 279.5L508.6 281.5L507.5 283.5L503.2 286.5L496.7 288.0ZM484.2 353.5L415.2 353.7L415.2 332.1L422.2 331.3L435.7 331.5L446.7 326.4L454.7 324.4L461.7 324.2L467.7 325.3L472.7 327.4L477.7 330.7L483.3 335.5L486.9 340.0L488.4 344.0L488.3 347.5L486.8 351.0L484.2 353.5Z"/>
<path fill="#ff8c00" fill-rule="evenodd" d="M473.2 353.5L449.7 353.5L446.2 352.7L443.8 353.5L415.2 353.6L415.2 334.6L420.7 333.8L426.2 334.1L441.2 338.4L443.7 337.8L450.2 333.9L454.2 332.6L460.2 332.2L466.2 333.4L470.7 335.3L474.7 337.8L477.5 340.5L479.3 343.5L479.5 346.5L478.6 349.0L476.4 351.5L473.2 353.5Z"/>
<path fill="#ff4800" fill-rule="evenodd" d="M437.2 353.5L415.2 353.6L415.2 337.5L419.7 336.7L424.7 336.9L429.7 338.3L433.7 340.5L436.7 343.5L438.4 347.0L438.5 351.0L437.7 353.5L437.2 353.5Z"/>
<path fill="#ff0000" fill-rule="evenodd" d="M432.2 353.5L415.2 353.6L415.2 341.3L418.7 340.3L422.7 340.2L426.3 341.0L429.7 342.8L431.9 345.0L433.4 348.0L433.4 351.5L432.7 353.5L432.2 353.5Z"/>
</g>

<path d="M419.2 349.5L533.0 235.7A439.8 439.8 0 0 1 548.0 349.5Z" fill="none" stroke="#666" stroke-width="0.6"/>
<clipPath id="odf0"><path d="M111.0 389.0H272.5V543.6H111.0Z"/></clipPath>
<g clip-path="url(#odf0)">
<path fill="#0000ff" d="M111.0 389.0H272.5V543.6H111.0Z"/>
<path fill="#008c69" fill-rule="evenodd" d="M147.0 434.5L137.5 434.5L128.5 433.0L120.0 429.9L115.5 426.3L113.2 422.0L112.4 417.5L113.0 413.5L115.5 407.5L115.6 405.0L114.6 402.5L108.5 392.5L107.6 388.5L108.1 385.0L132.1 385.0L140.0 390.0L144.0 391.6L163.5 391.6L180.5 395.1L182.5 394.6L183.5 393.5L186.0 385.0L200.0 385.0L201.0 389.0L201.2 393.0L200.6 397.0L199.2 400.5L197.0 403.8L190.6 410.0L181.3 421.0L174.7 426.0L166.5 430.1L157.0 433.0L147.0 434.5ZM272.0 409.0L265.5 408.5L259.0 407.0L253.5 404.7L248.6 401.5L245.0 397.7L242.8 393.5L242.0 389.5L242.6 385.0L276.5 385.0L276.5 408.8L272.0 409.0ZM111.0 445.1L109.0 445.4L107.0 444.9L107.0 432.9L108.5 432.4L111.0 432.4L113.0 433.2L114.5 434.9L115.2 437.0L115.3 439.5L114.5 442.0L113.0 443.9L111.0 445.1ZM148.0 548.0L107.0 548.0L107.0 456.5L113.0 455.9L122.5 458.3L127.0 458.6L130.5 457.4L141.0 452.2L150.5 449.3L163.0 447.4L176.5 447.1L189.0 448.4L200.5 451.3L208.5 454.9L216.5 460.9L218.5 461.9L221.0 461.7L229.5 458.6L235.5 457.1L242.5 456.2L250.0 456.0L258.5 456.8L265.5 458.4L271.0 460.8L274.1 463.5L274.9 465.0L274.9 467.0L273.8 469.0L272.1 470.5L266.5 473.3L259.0 475.1L248.5 476.0L238.0 475.3L230.5 473.7L221.0 469.9L218.5 469.4L216.0 470.2L204.5 477.1L193.0 480.8L179.5 482.7L159.0 482.7L155.3 483.5L154.4 485.5L155.0 493.5L154.6 499.0L153.2 504.0L150.8 509.0L147.7 513.5L143.5 517.8L138.5 521.7L130.7 526.5L128.9 528.5L129.8 530.0L140.0 534.0L145.8 538.0L147.7 540.5L148.8 543.0L148.9 546.0L148.4 548.0L148.0 548.0ZM274.0 544.7L271.5 545.0L269.0 544.2L266.7 542.5L264.7 540.0L261.5 532.5L260.1 523.5L260.5 514.0L262.8 505.5L266.7 499.5L269.0 497.8L271.5 497.0L274.0 497.3L276.5 498.8L276.5 543.2L274.0 544.7ZM219.5 531.6L216.0 531.7L213.0 529.5L210.8 525.5L209.7 520.0L209.9 514.0L211.5 509.0L214.0 505.5L217.0 504.0L220.0 504.6L222.5 507.0L224.5 511.0L225.5 516.0L225.4 521.0L224.2 526.0L222.0 529.7L219.5 531.6ZM165.0 521.1L163.0 520.5L162.2 519.0L162.7 517.0L164.5 516.1L166.5 516.9L167.2 518.5L166.5 520.3L165.0 521.1ZM197.5 548.0L182.3 548.0L182.3 544.0L183.8 541.0L186.0 539.1L189.0 538.1L192.0 538.3L195.0 539.8L196.9 542.0L197.9 545.0L197.5 548.0Z"/>
<path fill="#22ff00" fill-rule="evenodd" d="M145.0 431.5L137.0 431.2L129.7 429.5L124.0 426.8L119.9 423.0L118.4 420.0L117.9 416.5L120.1 408.5L120.2 406.0L119.2 403.5L114.1 396.5L112.2 392.5L111.8 388.5L113.5 385.4L114.0 385.0L126.2 385.0L130.5 387.0L139.0 392.7L142.5 394.3L146.0 394.8L157.0 394.5L163.5 394.9L169.5 396.2L178.5 399.4L182.0 399.9L184.5 399.5L186.0 397.8L187.2 389.0L188.8 385.0L197.2 385.0L198.5 388.0L198.9 391.5L198.5 395.2L197.2 398.5L194.5 401.6L188.0 405.5L179.8 416.5L176.0 420.5L170.0 424.8L162.5 428.2L154.0 430.5L145.0 431.5ZM275.0 403.0L269.5 403.0L264.5 402.2L260.0 400.7L256.0 398.3L253.2 395.5L251.3 392.0L250.8 388.5L251.7 385.0L276.5 385.0L276.5 402.8L275.0 403.0ZM142.5 548.0L107.0 548.0L107.0 459.9L113.5 459.5L124.5 462.2L129.5 462.5L132.5 461.2L140.0 455.9L147.0 452.8L157.5 450.2L169.0 449.1L179.5 449.4L190.0 450.9L198.9 453.5L205.7 457.0L210.2 461.5L211.2 464.0L211.2 466.5L209.9 469.0L207.6 471.5L200.0 476.1L191.0 478.9L180.5 480.5L169.0 480.9L153.5 479.8L151.2 480.0L150.0 480.7L149.6 482.5L151.1 491.0L151.2 496.5L149.9 502.5L147.3 508.0L144.1 512.5L140.0 516.5L135.0 520.1L124.4 526.0L122.2 528.0L120.8 530.5L121.0 532.0L122.3 533.0L133.6 535.5L140.0 538.8L142.0 541.0L143.1 543.5L143.3 546.0L142.5 548.0ZM251.5 473.5L242.0 473.3L233.6 471.5L228.3 468.5L227.3 467.0L227.2 465.0L229.5 462.5L234.0 460.4L240.5 458.9L247.5 458.4L254.5 458.8L260.8 460.0L265.6 462.0L268.2 464.5L268.6 466.0L268.2 467.5L265.0 470.3L259.0 472.5L251.5 473.5ZM273.5 540.7L271.5 540.9L269.5 540.3L267.5 538.7L265.8 536.5L263.3 530.5L262.1 522.5L262.6 514.5L264.7 507.5L268.0 502.8L270.0 501.5L272.0 501.1L274.5 501.7L276.5 503.3L276.5 538.7L273.5 540.7ZM218.5 528.0L216.0 527.7L214.0 525.9L212.5 522.8L211.8 519.0L212.1 515.0L213.2 511.5L215.0 508.9L217.5 507.9L219.5 508.4L221.5 510.5L222.8 513.5L223.4 517.0L223.2 520.5L222.3 524.0L220.5 526.8L218.5 528.0ZM194.0 548.0L185.5 548.0L185.1 546.0L185.5 544.0L188.1 541.5L190.0 541.1L192.0 541.5L193.5 542.6L194.7 544.5L194.8 547.0L194.5 548.0L194.0 548.0Z"/>
<path fill="#b4ff00" fill-rule="evenodd" d="M149.0 427.5L142.0 427.6L135.5 426.6L130.3 424.5L126.5 421.4L125.0 419.0L124.5 416.0L126.0 408.5L125.9 406.0L124.8 403.5L120.0 397.8L118.1 394.5L117.7 391.5L119.0 389.3L122.5 388.4L127.0 389.4L131.0 391.6L138.0 396.7L141.5 398.2L145.5 398.6L157.5 398.3L165.0 399.5L170.8 402.0L175.0 405.5L176.3 408.5L175.7 412.0L173.4 416.0L170.0 419.5L165.6 422.5L160.5 424.8L155.0 426.5L149.0 427.5ZM193.0 395.0L191.5 394.2L190.8 391.5L191.5 389.2L193.0 388.2L194.5 389.2L195.1 391.5L194.5 393.8L193.0 395.0ZM272.5 389.3L271.3 389.0L272.0 388.5L272.5 389.3ZM112.5 529.0L110.0 528.7L107.0 527.3L107.0 463.3L111.5 463.0L115.5 463.5L132.5 468.6L136.0 469.2L137.0 468.5L138.3 464.0L139.8 461.5L142.3 459.0L146.0 456.6L151.0 454.5L156.5 453.0L170.0 451.5L181.0 452.0L191.0 453.9L198.7 457.0L203.6 461.0L204.8 463.0L205.1 465.5L204.3 468.0L202.8 470.0L196.7 474.0L187.5 477.0L177.5 478.3L167.0 478.4L158.5 477.4L144.5 474.2L142.0 474.2L141.8 476.0L145.9 486.0L147.2 492.0L146.7 499.0L144.3 505.5L140.5 511.0L135.5 515.6L122.7 523.0L115.5 528.0L112.5 529.0ZM250.0 470.0L245.0 469.9L240.5 469.0L237.7 467.5L237.0 465.5L238.4 464.0L240.5 463.0L247.5 461.9L254.5 462.7L257.0 463.6L258.7 465.0L259.0 466.5L257.5 468.1L254.0 469.4L250.0 470.0ZM273.0 535.6L270.0 535.1L267.4 532.5L265.5 527.9L264.7 522.0L265.1 516.0L266.6 511.0L269.0 507.6L272.0 506.3L274.5 507.2L276.5 509.4L276.5 532.6L275.0 534.4L273.0 535.6ZM217.5 521.1L216.3 520.0L215.9 518.0L216.3 516.0L217.5 514.9L218.9 516.0L219.3 518.0L218.9 520.0L217.5 521.1ZM133.0 548.0L116.1 548.0L114.6 546.0L114.3 543.5L115.5 541.4L118.5 539.8L123.5 539.1L128.5 539.6L132.0 541.0L134.5 543.5L134.7 546.0L133.0 548.0Z"/>
<path fill="#ffd700" fill-rule="evenodd" d="M151.5 422.0L146.5 422.5L142.0 422.1L138.5 421.0L135.4 419.0L133.7 416.5L133.4 413.5L134.5 409.7L136.5 406.7L138.5 405.4L141.5 404.6L153.0 403.5L160.0 404.4L164.6 407.0L166.0 409.0L166.4 411.0L165.8 413.5L164.5 415.6L159.3 419.5L151.5 422.0ZM176.0 475.5L164.0 475.1L153.4 472.5L149.5 470.5L147.3 468.5L146.0 466.0L146.2 463.5L149.1 460.0L154.5 457.1L162.0 455.2L171.0 454.4L179.5 454.8L187.6 456.5L193.5 459.0L197.3 462.5L198.0 464.5L197.5 467.0L196.1 469.0L193.4 471.0L185.8 474.0L176.0 475.5ZM114.0 523.1L110.5 523.4L107.0 522.4L107.0 467.1L107.5 467.0L112.5 466.9L118.0 467.9L125.5 470.7L131.5 474.0L135.6 477.5L139.2 482.0L141.4 486.5L142.6 491.5L142.6 496.5L141.6 501.0L139.4 505.5L136.5 509.3L129.5 515.0L114.0 523.1ZM272.0 527.1L270.0 525.5L269.0 521.0L270.0 516.5L272.0 514.9L274.0 516.5L275.0 521.0L274.0 525.5L272.0 527.1Z"/>
<path fill="#ff8c00" fill-rule="evenodd" d="M173.0 471.5L166.0 471.0L160.4 469.5L156.8 467.0L156.1 465.5L156.2 464.0L157.8 462.0L161.5 460.1L166.0 459.0L171.5 458.5L177.0 458.8L182.0 459.9L185.5 461.5L187.5 463.5L188.0 465.0L187.5 466.5L184.6 469.0L179.5 470.8L173.0 471.5ZM113.0 518.1L107.0 517.6L107.0 471.3L112.0 471.1L116.5 471.9L122.2 474.0L127.5 476.9L131.3 480.0L134.2 483.5L136.3 487.5L137.4 492.0L137.4 496.0L136.5 500.0L134.5 504.0L132.0 507.3L128.5 510.4L124.0 513.3L117.5 516.7L113.0 518.1Z"/>
<path fill="#ff4800" fill-rule="evenodd" d="M112.0 512.5L107.0 512.2L107.0 476.4L111.0 476.2L115.0 476.8L122.5 480.1L125.7 482.5L128.3 485.5L130.0 488.5L131.0 492.0L131.1 495.5L130.4 498.5L129.0 501.5L126.7 504.5L119.5 509.9L115.5 511.7L112.0 512.5Z"/>
<path fill="#ff0000" fill-rule="evenodd" d="M111.5 505.0L107.0 504.7L107.0 483.6L112.0 483.5L116.5 485.1L120.2 488.5L122.0 492.5L121.8 496.5L119.6 500.5L116.0 503.5L111.5 505.0Z"/>
</g>

<path d="M111.0 389.0H272.5V543.6H111.0Z" fill="none" stroke="#888" stroke-width="0.7"/>
<clipPath id="odf1"><path d="M375.0 389.3H536.0V541.7H375.0Z"/></clipPath>
<g clip-path="url(#odf1)">
<path fill="#0000ff" d="M375.0 389.3H536.0V541.7H375.0Z"/>
<path fill="#008c69" fill-rule="evenodd" d="M378.5 400.9L374.5 400.7L371.0 398.7L371.0 385.3L383.1 385.3L385.3 388.3L386.1 392.3L385.0 396.3L382.3 399.3L378.5 400.9ZM496.0 545.8L439.8 545.8L434.4 538.3L431.1 529.8L430.1 523.8L430.1 517.8L430.9 512.8L433.3 504.3L433.4 501.8L432.4 499.3L427.8 492.8L425.0 484.8L423.5 483.9L421.5 483.8L404.5 487.3L391.5 487.8L380.0 485.9L375.0 484.0L371.0 481.6L371.0 460.8L374.8 456.8L384.5 448.8L395.5 441.7L405.5 436.7L424.0 428.9L442.2 413.3L442.6 411.3L442.0 409.5L438.0 404.4L435.0 402.5L424.4 398.3L421.4 396.3L419.7 394.3L419.0 392.3L419.6 389.8L421.9 387.3L425.1 385.3L484.9 385.3L488.1 387.3L490.1 389.3L491.0 391.8L490.3 394.3L488.6 396.3L482.0 399.9L467.5 404.2L464.6 406.8L463.8 409.8L465.0 412.8L472.0 417.3L476.0 420.8L479.2 424.8L484.0 432.8L487.5 435.3L491.0 435.8L496.5 435.5L499.5 434.7L501.5 433.1L502.7 430.3L502.9 421.3L503.8 416.3L505.5 412.3L508.0 409.5L510.5 408.5L513.0 409.1L515.1 410.8L516.8 413.8L518.3 420.8L517.4 432.8L518.1 439.8L517.2 442.8L515.0 445.2L512.0 446.9L509.0 447.5L495.5 446.2L490.0 446.2L487.0 446.9L483.9 449.3L479.3 456.8L476.2 460.8L472.9 463.8L469.0 466.4L464.0 468.7L459.0 469.9L443.5 470.5L441.0 471.8L439.9 473.8L440.1 475.3L441.1 476.8L448.5 484.4L450.5 485.7L453.5 486.0L467.5 484.0L473.0 484.3L478.5 485.4L484.0 487.4L489.5 490.5L494.3 494.3L498.4 498.8L501.9 504.3L504.4 510.3L505.7 516.3L506.0 522.8L505.0 529.3L503.0 535.3L499.8 541.3L496.0 545.8ZM536.5 398.9L534.0 399.0L531.5 398.3L529.1 396.8L527.5 395.0L526.4 392.8L526.0 390.3L526.2 387.8L527.3 385.3L540.0 385.3L540.0 397.5L536.5 398.9Z"/>
<path fill="#22ff00" fill-rule="evenodd" d="M402.5 483.8L395.0 484.0L388.0 483.2L382.0 481.3L377.9 478.8L375.0 475.3L374.1 471.8L374.9 467.8L377.5 463.3L385.6 455.3L397.5 446.8L407.1 441.8L420.5 437.0L424.0 435.2L427.0 432.5L435.5 422.9L444.6 415.8L445.9 412.3L445.0 408.1L440.0 400.8L434.0 394.8L432.8 392.8L433.3 390.3L435.3 388.3L440.6 385.3L466.2 385.3L472.0 387.3L475.0 388.9L477.0 391.3L476.4 393.8L474.0 395.8L467.5 398.9L464.5 401.2L462.0 405.0L461.2 409.3L461.8 412.8L463.0 415.1L471.0 420.3L476.0 425.4L478.7 429.8L483.3 439.3L483.6 441.3L482.8 443.8L478.4 452.8L475.8 456.8L472.6 460.3L469.0 463.0L464.5 465.3L460.0 466.7L451.5 467.1L438.5 464.4L436.0 464.5L434.6 465.8L430.5 472.8L425.7 476.8L414.5 481.4L402.5 483.8ZM537.0 394.8L535.0 395.2L533.0 394.8L530.3 392.3L529.8 390.3L530.1 388.3L531.0 386.7L532.8 385.3L537.2 385.3L539.7 387.8L539.9 391.8L538.5 393.8L537.0 394.8ZM379.0 396.8L377.0 397.2L375.0 396.8L373.5 395.8L372.1 393.8L371.8 391.8L372.3 389.8L375.0 387.2L377.0 386.8L379.0 387.2L380.7 388.3L381.7 389.8L382.2 391.8L381.9 393.8L380.6 395.8L379.0 396.8ZM511.0 431.9L509.5 431.8L507.6 429.3L506.5 425.8L506.0 421.8L506.5 418.3L507.5 415.6L509.0 413.8L511.0 413.2L513.0 414.1L514.3 415.8L515.5 421.3L514.2 427.8L512.5 430.6L511.0 431.9ZM489.5 545.8L446.1 545.8L442.5 542.3L439.1 537.8L436.6 532.8L435.0 527.3L434.4 521.8L434.7 516.8L435.6 512.3L440.8 499.3L441.5 496.3L441.0 495.3L435.5 493.1L433.2 490.8L432.4 487.3L433.0 485.3L434.0 484.0L437.0 483.1L440.5 484.6L442.4 487.3L443.6 492.3L444.5 493.3L448.0 492.9L462.0 488.8L467.0 488.3L472.0 488.5L478.0 489.7L483.5 492.0L488.5 495.1L493.2 499.3L496.9 504.3L499.8 510.3L501.3 516.8L501.5 523.3L500.4 529.8L497.7 536.3L493.5 542.3L489.5 545.8Z"/>
<path fill="#b4ff00" fill-rule="evenodd" d="M456.5 463.8L452.0 463.7L447.5 462.8L443.0 461.0L439.5 458.6L436.2 455.3L432.7 450.3L430.6 445.8L429.9 442.3L430.9 436.3L434.5 429.3L438.9 424.3L445.7 419.3L447.5 416.6L448.5 412.3L448.4 407.8L444.1 397.8L443.5 393.3L444.4 390.8L446.1 388.8L448.6 387.3L451.5 386.6L454.5 386.8L457.0 387.8L459.1 389.3L460.7 391.3L461.2 395.3L459.1 402.8L458.7 406.3L459.0 410.8L460.1 415.3L462.0 418.4L469.0 422.9L473.3 427.3L476.9 433.8L478.5 440.3L478.1 444.3L476.6 448.8L474.2 453.3L471.5 456.8L468.0 459.8L464.5 461.8L460.5 463.2L456.5 463.8ZM405.0 478.3L397.0 478.6L390.5 477.0L388.0 475.6L386.3 473.8L385.5 471.8L385.5 469.8L386.5 467.3L388.3 464.8L394.5 460.1L402.0 456.9L408.5 456.4L413.5 458.1L419.5 461.8L422.0 464.8L422.5 467.8L420.8 471.3L417.1 474.3L411.5 476.8L405.0 478.3ZM480.5 545.8L455.0 545.8L448.0 540.9L442.9 534.3L440.7 529.3L439.6 524.3L439.5 518.8L440.4 513.8L442.3 508.8L445.4 503.8L449.0 500.0L453.5 496.9L459.0 494.6L464.5 493.4L470.0 493.2L475.5 494.2L481.0 496.2L485.9 499.3L490.0 503.2L493.2 507.8L495.5 513.3L496.5 518.8L496.4 524.3L495.1 529.8L492.8 534.8L489.5 539.3L485.0 543.4L480.5 545.8Z"/>
<path fill="#ffd700" fill-rule="evenodd" d="M457.5 459.9L453.5 460.0L449.5 459.3L446.0 457.9L442.8 455.8L439.8 452.8L437.5 449.3L435.9 445.3L435.3 441.8L435.8 436.8L437.9 431.8L441.0 427.8L448.5 421.3L450.1 418.3L452.5 410.8L454.0 409.3L455.5 411.2L457.8 417.8L459.5 420.8L467.5 426.6L471.0 430.7L473.2 435.3L474.2 439.8L474.1 443.3L473.2 446.8L469.5 453.3L464.0 457.7L457.5 459.9ZM469.0 542.8L464.5 542.6L460.5 541.6L456.5 539.8L453.0 537.2L450.0 534.0L447.7 530.3L446.2 526.3L445.6 521.8L445.9 517.3L447.0 513.3L449.0 509.4L451.5 506.2L454.8 503.3L458.5 501.2L462.5 499.8L467.0 499.2L471.5 499.4L475.5 500.4L479.5 502.2L483.1 504.8L486.0 508.0L488.3 511.8L489.8 515.8L490.4 519.8L490.2 524.3L489.1 528.3L487.2 532.3L484.5 535.8L481.0 538.8L477.5 540.8L473.5 542.2L469.0 542.8Z"/>
<path fill="#ff8c00" fill-rule="evenodd" d="M458.0 454.9L452.5 455.0L447.0 452.8L442.7 448.3L440.7 442.8L440.9 437.8L443.2 432.8L446.5 429.3L452.5 424.4L454.0 423.8L456.0 424.5L465.0 430.9L467.8 434.8L469.2 439.3L468.8 444.3L466.5 449.3L462.9 452.8L458.0 454.9ZM469.5 534.3L464.0 533.8L459.2 531.3L455.8 527.3L454.3 522.3L454.9 516.8L457.5 512.3L461.5 509.2L466.5 507.7L472.0 508.2L476.5 510.4L479.9 514.3L481.7 519.3L481.2 524.8L478.8 529.3L474.6 532.8L469.5 534.3Z"/>
<path fill="#ff4800" fill-rule="evenodd" d="M456.0 447.4L453.5 447.3L451.0 446.1L449.4 444.3L448.5 441.8L448.6 439.3L449.8 436.8L451.9 434.8L454.0 434.0L456.0 434.1L458.5 435.3L460.4 437.3L461.4 439.8L461.3 442.3L460.2 444.8L458.5 446.4L456.0 447.4Z"/>
</g>

<path d="M375.0 389.3H536.0V541.7H375.0Z" fill="none" stroke="#888" stroke-width="0.7"/>
<rect x="0" y="0" width="59" height="34" fill="#fff"/>
<text class="sb" x="15.8" y="27.4" font-size="27.5" textLength="32.0" lengthAdjust="spacingAndGlyphs">(a)</text>
<text class="sb" x="15.8" y="218.2" font-size="27.5" textLength="32.3" lengthAdjust="spacingAndGlyphs">(b)</text>
<text class="sb" x="16.6" y="407.8" font-size="27.5" textLength="30.2" lengthAdjust="spacingAndGlyphs">(c)</text>
<text class="sb" x="92.2" y="10.9" font-size="10">ND</text>
<text class="sb" x="284.2" y="10.9" font-size="10">ND</text>
<text class="sb" x="475.2" y="10.9" font-size="10">ND</text>
<text class="sb" x="180" y="96.9" font-size="10">TD</text>
<text class="sb" x="371.8" y="96.9" font-size="10">TD</text>
<text class="sb" x="563.8" y="96.9" font-size="10">TD</text>
<text class="sb" x="73.3" y="188.8" font-size="22.5" textLength="53.7" lengthAdjust="spacingAndGlyphs">{111}</text>
<text class="sb" x="264.7" y="188.8" font-size="22.5" textLength="53.7" lengthAdjust="spacingAndGlyphs">{110}</text>
<text class="sb" x="457.7" y="188.8" font-size="22.5" textLength="50.2" lengthAdjust="spacingAndGlyphs">{100}</text>
<text class="sb" x="73.1" y="243.2" font-size="24.5" textLength="53.8" lengthAdjust="spacingAndGlyphs">[111]</text>
<text class="sb" x="264.0" y="243.2" font-size="24.5" textLength="55.1" lengthAdjust="spacingAndGlyphs">[110]</text>
<text class="sb" x="456.7" y="243.2" font-size="24.5" textLength="54.8" lengthAdjust="spacingAndGlyphs">[100]</text>
<text class="sb" x="70.5" y="272.3" font-size="16.3" fill="#f01010" textLength="35.2" lengthAdjust="spacingAndGlyphs">[112]</text>
<text class="sb" x="236.6" y="300.7" font-size="16.3" fill="#f01010" textLength="34.7" lengthAdjust="spacingAndGlyphs">[115]</text>
<text class="sb" x="451.6" y="272.2" font-size="16.3" fill="#f01010" textLength="34.8" lengthAdjust="spacingAndGlyphs">[112]</text>
<text class="ss" x="21.3" y="363.5" font-size="11" fill="#333" letter-spacing="1">0 0 1</text>
<text class="ss" x="212.3" y="363.5" font-size="11" fill="#333" letter-spacing="1">0 0 1</text>
<text class="ss" x="403.6" y="363.5" font-size="11" fill="#333" letter-spacing="1">0 0 1</text>
<text class="ss" x="151.2" y="363.5" font-size="11" fill="#333" letter-spacing="1">1 0 1</text>
<text class="ss" x="342" y="363.5" font-size="11" fill="#333" letter-spacing="1">1 0 1</text>
<text class="ss" x="533.3" y="363.5" font-size="11" fill="#333" letter-spacing="1">1 0 1</text>
<text class="ss" x="136" y="230.8" font-size="11" fill="#333" letter-spacing="1">1 1 1</text>
<text class="ss" x="327.4" y="230.8" font-size="11" fill="#333" letter-spacing="1">1 1 1</text>
<text class="ss" x="518.5" y="230.8" font-size="11" fill="#333" letter-spacing="1">1 1 1</text>
<line x1="-2.5" y1="195.1" x2="690" y2="195.1" stroke="#000" stroke-width="2.7" stroke-dasharray="21 3.4"/>
<line x1="7.7" y1="381.4" x2="690" y2="381.4" stroke="#000" stroke-width="2.7" stroke-dasharray="21.3 3"/>
<line x1="-16.5" y1="381.4" x2="4.4" y2="381.4" stroke="#000" stroke-width="2.7"/>
<rect x="587.2" y="5.00" width="22.7" height="14.45" fill="#ff0000"/>
<rect x="587.2" y="19.45" width="22.7" height="14.45" fill="#ff4800"/>
<rect x="587.2" y="33.90" width="22.7" height="14.45" fill="#ff8c00"/>
<rect x="587.2" y="48.35" width="22.7" height="14.45" fill="#ffd700"/>
<rect x="587.2" y="62.80" width="22.7" height="14.45" fill="#b4ff00"/>
<rect x="587.2" y="77.25" width="22.7" height="14.45" fill="#22ff00"/>
<rect x="587.2" y="91.70" width="22.7" height="14.45" fill="#008c69"/>
<rect x="587.2" y="106.15" width="22.7" height="14.45" fill="#0000ff"/>
<line x1="587.2" y1="19.45" x2="609.9" y2="19.45" stroke="#111" stroke-width="1.3"/>
<line x1="587.2" y1="33.90" x2="609.9" y2="33.90" stroke="#111" stroke-width="1.3"/>
<line x1="587.2" y1="48.35" x2="609.9" y2="48.35" stroke="#111" stroke-width="1.3"/>
<line x1="587.2" y1="62.80" x2="609.9" y2="62.80" stroke="#111" stroke-width="1.3"/>
<line x1="587.2" y1="77.25" x2="609.9" y2="77.25" stroke="#111" stroke-width="1.3"/>
<line x1="587.2" y1="91.70" x2="609.9" y2="91.70" stroke="#111" stroke-width="1.3"/>
<line x1="587.2" y1="106.15" x2="609.9" y2="106.15" stroke="#111" stroke-width="1.3"/>
<rect x="587.2" y="5.00" width="22.7" height="115.60" fill="none" stroke="#222" stroke-width="1"/>
<text class="ss" x="614.0" y="8.80" font-size="10.5" fill="#333" letter-spacing="0.4">max = 8.541</text>
<text class="ss" x="614.0" y="23.25" font-size="10.5" fill="#333" letter-spacing="0.4">5.974</text>
<text class="ss" x="614.0" y="37.70" font-size="10.5" fill="#333" letter-spacing="0.4">4.179</text>
<text class="ss" x="614.0" y="52.15" font-size="10.5" fill="#333" letter-spacing="0.4">2.923</text>
<text class="ss" x="614.0" y="66.60" font-size="10.5" fill="#333" letter-spacing="0.4">2.044</text>
<text class="ss" x="614.0" y="81.05" font-size="10.5" fill="#333" letter-spacing="0.4">1.430</text>
<text class="ss" x="614.0" y="95.50" font-size="10.5" fill="#333" letter-spacing="0.4">1.000</text>
<text class="ss" x="614.0" y="109.95" font-size="10.5" fill="#333" letter-spacing="0.4">0.699</text>
<rect x="587.0" y="200.90" width="22.4" height="14.44" fill="#ff0000"/>
<rect x="587.0" y="215.34" width="22.4" height="14.44" fill="#ff4800"/>
<rect x="587.0" y="229.78" width="22.4" height="14.44" fill="#ff8c00"/>
<rect x="587.0" y="244.22" width="22.4" height="14.44" fill="#ffd700"/>
<rect x="587.0" y="258.66" width="22.4" height="14.44" fill="#b4ff00"/>
<rect x="587.0" y="273.10" width="22.4" height="14.44" fill="#22ff00"/>
<rect x="587.0" y="287.54" width="22.4" height="14.44" fill="#008c69"/>
<rect x="587.0" y="301.98" width="22.4" height="14.44" fill="#0000ff"/>
<line x1="587.0" y1="215.34" x2="609.4" y2="215.34" stroke="#111" stroke-width="1.3"/>
<line x1="587.0" y1="229.78" x2="609.4" y2="229.78" stroke="#111" stroke-width="1.3"/>
<line x1="587.0" y1="244.22" x2="609.4" y2="244.22" stroke="#111" stroke-width="1.3"/>
<line x1="587.0" y1="258.66" x2="609.4" y2="258.66" stroke="#111" stroke-width="1.3"/>
<line x1="587.0" y1="273.10" x2="609.4" y2="273.10" stroke="#111" stroke-width="1.3"/>
<line x1="587.0" y1="287.54" x2="609.4" y2="287.54" stroke="#111" stroke-width="1.3"/>
<line x1="587.0" y1="301.98" x2="609.4" y2="301.98" stroke="#111" stroke-width="1.3"/>
<rect x="587.0" y="200.90" width="22.4" height="115.52" fill="none" stroke="#222" stroke-width="1"/>
<text class="ss" x="614.0" y="204.70" font-size="10.5" fill="#333" letter-spacing="0.4">max = 4.316</text>
<text class="ss" x="614.0" y="219.14" font-size="10.5" fill="#333" letter-spacing="0.4">3.383</text>
<text class="ss" x="614.0" y="233.58" font-size="10.5" fill="#333" letter-spacing="0.4">2.651</text>
<text class="ss" x="614.0" y="248.02" font-size="10.5" fill="#333" letter-spacing="0.4">2.078</text>
<text class="ss" x="614.0" y="262.46" font-size="10.5" fill="#333" letter-spacing="0.4">1.628</text>
<text class="ss" x="614.0" y="276.90" font-size="10.5" fill="#333" letter-spacing="0.4">1.276</text>
<text class="ss" x="614.0" y="291.34" font-size="10.5" fill="#333" letter-spacing="0.4">1.000</text>
<text class="ss" x="614.0" y="305.78" font-size="10.5" fill="#333" letter-spacing="0.4">0.784</text>
<rect x="587.0" y="387.90" width="20.6" height="14.36" fill="#ff0000"/>
<rect x="587.0" y="402.26" width="20.6" height="14.36" fill="#ff4800"/>
<rect x="587.0" y="416.62" width="20.6" height="14.36" fill="#ff8c00"/>
<rect x="587.0" y="430.98" width="20.6" height="14.36" fill="#ffd700"/>
<rect x="587.0" y="445.34" width="20.6" height="14.36" fill="#b4ff00"/>
<rect x="587.0" y="459.70" width="20.6" height="14.36" fill="#22ff00"/>
<rect x="587.0" y="474.06" width="20.6" height="14.36" fill="#008c69"/>
<rect x="587.0" y="488.42" width="20.6" height="14.36" fill="#0000ff"/>
<line x1="587.0" y1="402.26" x2="607.6" y2="402.26" stroke="#111" stroke-width="1.3"/>
<line x1="587.0" y1="416.62" x2="607.6" y2="416.62" stroke="#111" stroke-width="1.3"/>
<line x1="587.0" y1="430.98" x2="607.6" y2="430.98" stroke="#111" stroke-width="1.3"/>
<line x1="587.0" y1="445.34" x2="607.6" y2="445.34" stroke="#111" stroke-width="1.3"/>
<line x1="587.0" y1="459.70" x2="607.6" y2="459.70" stroke="#111" stroke-width="1.3"/>
<line x1="587.0" y1="474.06" x2="607.6" y2="474.06" stroke="#111" stroke-width="1.3"/>
<line x1="587.0" y1="488.42" x2="607.6" y2="488.42" stroke="#111" stroke-width="1.3"/>
<rect x="587.0" y="387.90" width="20.6" height="114.88" fill="none" stroke="#222" stroke-width="1"/>
<text class="ss" x="612.2" y="391.70" font-size="10.5" fill="#333" letter-spacing="0.4">max = 34.186</text>
<text class="ss" x="612.2" y="406.06" font-size="10.5" fill="#333" letter-spacing="0.4">18.976</text>
<text class="ss" x="612.2" y="420.42" font-size="10.5" fill="#333" letter-spacing="0.4">10.533</text>
<text class="ss" x="612.2" y="434.78" font-size="10.5" fill="#333" letter-spacing="0.4">5.847</text>
<text class="ss" x="612.2" y="449.14" font-size="10.5" fill="#333" letter-spacing="0.4">3.246</text>
<text class="ss" x="612.2" y="463.50" font-size="10.5" fill="#333" letter-spacing="0.4">1.802</text>
<text class="ss" x="612.2" y="477.86" font-size="10.5" fill="#333" letter-spacing="0.4">1.000</text>
<text class="ss" x="612.2" y="492.22" font-size="10.5" fill="#333" letter-spacing="0.4">0.555</text>
<text class="sb" x="590" y="145" font-size="27">max=</text>
<text class="sb" x="592" y="177.6" font-size="27">8.541</text>
<text class="sb" x="590" y="336" font-size="27">max=</text>
<text class="sb" x="592.3" y="369.2" font-size="27">4.316</text>
<text class="sb" x="590" y="528.2" font-size="27">max=</text>
<text class="sb" x="586" y="558.9" font-size="27">34.186</text>
<text class="sb" x="194.9" y="417.1" font-size="15.4" fill="#fff" textLength="70.7" lengthAdjust="spacingAndGlyphs">{001}[100]</text>
<text class="sb" x="139.4" y="444.8" font-size="15.4" fill="#fff" textLength="71.3" lengthAdjust="spacingAndGlyphs">{110}[115]</text>
<text class="sb" x="378.7" y="426.1" font-size="15.4" fill="#fff" textLength="69.6" lengthAdjust="spacingAndGlyphs">{111}[132]</text>
<text class="sb" x="467.7" y="411.8" font-size="15.4" fill="#fff" textLength="68.2" lengthAdjust="spacingAndGlyphs">{001}[110]</text>
<text class="sb" x="376.0" y="513.6" font-size="15.4" fill="#fff" textLength="69.5" lengthAdjust="spacingAndGlyphs">{111}[112]</text>
<text class="sb" x="36" y="476.6" font-size="16.5">α-fiber</text>
<text class="sb" x="538.8" y="420.4" font-size="16.5">τ-fiber</text>
<text class="sb" x="300.6" y="501" font-size="16.5">λ-fiber</text>
<text class="sb" x="301" y="546" font-size="16.5">α-fiber</text>
<line x1="110.9" y1="471.2" x2="272.5" y2="471.2" stroke="#000" stroke-width="2.4" stroke-dasharray="15.7 8.6"/>
<line x1="375.4" y1="495.2" x2="537" y2="495.2" stroke="#000" stroke-width="2.4" stroke-dasharray="15.5 8.9"/>
<line x1="375.4" y1="541.4" x2="538" y2="541.4" stroke="#000" stroke-width="2.4" stroke-dasharray="15.5 8.9"/>
<line x1="536.5" y1="389.3" x2="536.5" y2="543" stroke="#000" stroke-width="2.4" stroke-dasharray="15.5 8.5"/>
<line x1="85.7" y1="471.2" x2="99.3" y2="471.2" stroke="#000" stroke-width="2"/><path d="M110.8 471.2L94.8 462.7L99.3 471.2L94.8 479.7Z" fill="#000"/>
<line x1="351.0" y1="495.3" x2="363.7" y2="495.3" stroke="#000" stroke-width="2"/><path d="M375.2 495.3L359.2 486.8L363.7 495.3L359.2 503.8Z" fill="#000"/>
<line x1="351.0" y1="541.6" x2="363.7" y2="541.6" stroke="#000" stroke-width="2"/><path d="M375.2 541.6L359.2 533.1L363.7 541.6L359.2 550.1Z" fill="#000"/>
<line x1="559.8" y1="423.5" x2="548" y2="428" stroke="#000" stroke-width="2"/>
<path d="M536.6 433.2L548.4 420.4L547.5 428.5L555.4 434.4Z" fill="#000"/>
<path d="M0 507.8H78.8V572" fill="none" stroke="#000" stroke-width="1.6"/>
<path d="M9.9 552V519.2H44" fill="none" stroke="#000" stroke-width="1.8"/>
<path d="M55.5 519.2L38.7 511.6L42.5 519.2L38.7 527.7Z" fill="#000"/>
<path d="M9.9 564.5L1.8 548.4L9.9 552L18.2 548.4Z" fill="#000"/>
<text class="sb" x="43" y="539" font-size="24">φ1</text>
<text class="sb" x="19" y="564.5" font-size="22">Φ</text>
<text class="sb" x="191.7" y="566.3" font-size="27.5" text-anchor="middle">φ2=0°</text>
<text class="sb" x="456.3" y="564.3" font-size="27.5" text-anchor="middle">φ2=45°</text>
</svg>
</body></html>
